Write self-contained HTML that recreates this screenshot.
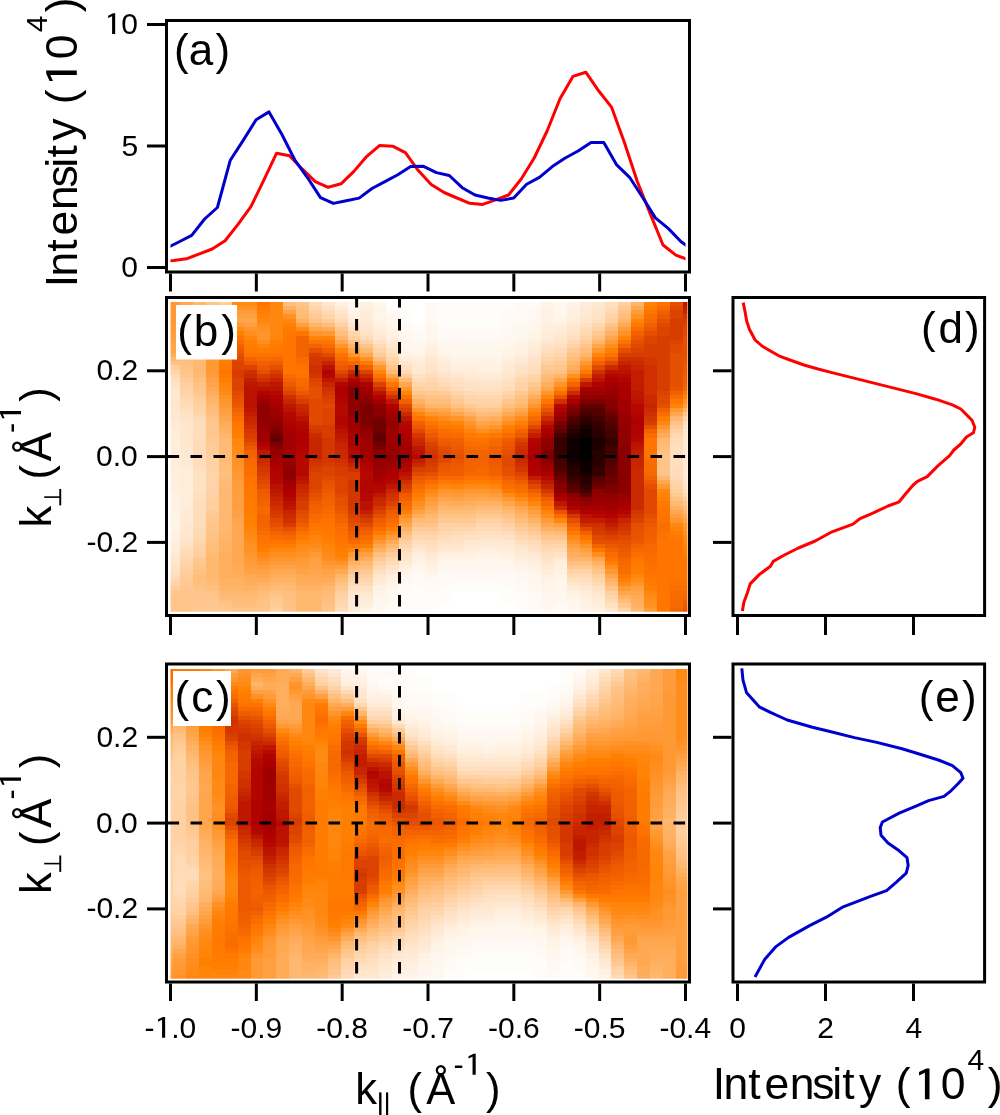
<!DOCTYPE html>
<html><head><meta charset="utf-8"><style>
html,body{margin:0;padding:0;background:#fff;overflow:hidden}
svg{display:block;will-change:transform}
</style></head><body><svg width="1000" height="1115" viewBox="0 0 1000 1115"><defs><clipPath id="ca"><rect x="170.5" y="22" width="515" height="248"/></clipPath><clipPath id="cb"><rect x="170.5" y="301.5" width="517" height="310.3"/></clipPath><clipPath id="cc"><rect x="170.5" y="669" width="517" height="309.8"/></clipPath></defs><g clip-path="url(#cb)"><g transform="translate(167.10,301.50) scale(12.89,4.25068)" shape-rendering="crispEdges"><path fill="#ff9933" d="M0,0h1v5h-1zM3,12h1v5h-1zM4,8h1v1h-1zM4,24h1v1h-1zM5,5h1v1h-1zM5,40h1v2h-1zM6,60h1v1h-1zM10,60h1v1h-1zM11,59h1v1h-1zM12,7h1v1h-1zM14,59h1v1h-1zM16,56h1v1h-1zM20,46h1v1h-1zM22,45h1v1h-1zM26,46h1v1h-1zM27,47h1v1h-1zM32,14h1v1h-1zM34,9h1v1h-1zM34,63h1v1h-1zM35,67h1v1h-1zM37,72h1v1h-1zM38,43h1v1h-1zM39,25h1v1h-1zM40,52h1v1h-1z"/><path fill="#ff9c39" d="M0,5h1v2h-1zM3,11h1v1h-1zM3,17h1v1h-1zM5,2h1v1h-1zM5,42h1v2h-1zM6,2h1v1h-1zM6,61h1v1h-1zM7,62h1v1h-1zM8,61h1v1h-1zM9,61h1v1h-1zM10,61h1v1h-1zM12,62h1v1h-1zM17,55h1v1h-1zM18,51h1v1h-1zM21,26h1v1h-1zM21,45h1v1h-1zM24,29h1v1h-1zM25,45h1v1h-1zM26,27h1v1h-1zM27,26h1v1h-1zM29,51h1v1h-1zM35,6h1v1h-1zM36,2h1v1h-1z"/><path fill="#ff9f3f" d="M0,7h1v2h-1zM3,10h1v1h-1zM4,7h1v1h-1zM4,25h1v1h-1zM5,44h1v5h-1zM6,5h1v1h-1zM6,62h1v1h-1zM10,5h1v1h-1zM10,62h1v1h-1zM11,60h1v1h-1zM13,62h1v1h-1zM15,59h1v1h-1zM20,47h1v1h-1zM23,45h1v1h-1zM24,45h1v1h-1zM28,49h1v1h-1zM30,52h1v1h-1zM31,57h1v1h-1zM32,58h1v1h-1zM36,67h1v1h-1zM39,50h1v1h-1zM40,24h1v1h-1z"/><path fill="#ffa245" d="M0,9h1v1h-1zM3,9h1v1h-1zM3,18h1v1h-1zM4,26h1v1h-1zM5,3h1v1h-1zM5,49h1v2h-1zM6,3h1v1h-1zM6,63h1v1h-1zM7,63h1v1h-1zM8,62h1v1h-1zM9,2h1v1h-1zM9,62h1v1h-1zM10,63h1v1h-1zM11,61h1v2h-1zM12,63h1v1h-1zM19,49h1v1h-1zM22,46h1v1h-1zM23,27h1v1h-1zM25,28h1v1h-1zM28,23h1v1h-1zM38,30h1v1h-1zM40,51h1v1h-1z"/><path fill="#ffa54b" d="M0,10h1v2h-1zM3,19h1v1h-1zM4,6h1v1h-1zM4,27h1v1h-1zM5,4h1v1h-1zM5,51h1v1h-1zM6,4h1v1h-1zM7,64h1v1h-1zM11,6h1v1h-1zM11,63h1v1h-1zM12,64h1v1h-1zM13,9h1v1h-1zM14,11h1v1h-1zM14,60h1v1h-1zM16,57h1v1h-1zM17,17h1v1h-1zM18,52h1v1h-1zM19,24h1v1h-1zM20,25h1v1h-1zM21,46h1v1h-1zM22,26h1v1h-1zM23,46h1v1h-1zM24,28h1v1h-1zM25,46h1v1h-1zM26,47h1v1h-1zM27,48h1v1h-1zM29,20h1v1h-1zM29,52h1v1h-1zM30,18h1v1h-1zM31,16h1v1h-1zM33,10h1v1h-1zM33,60h1v1h-1zM34,8h1v1h-1zM34,64h1v1h-1zM35,68h1v1h-1zM36,68h1v1h-1z"/><path fill="#ffab58" d="M0,12h1v1h-1zM1,5h1v2h-1zM3,7h1v1h-1zM4,28h1v1h-1zM5,62h1v2h-1zM6,65h1v1h-1zM7,65h1v1h-1zM10,65h1v1h-1zM11,65h1v1h-1zM12,6h1v1h-1zM12,65h1v1h-1zM16,14h1v1h-1zM17,56h1v1h-1zM22,47h1v1h-1zM36,69h1v1h-1zM38,31h1v1h-1zM40,50h1v1h-1z"/><path fill="#ffb870" d="M0,13h1v1h-1zM1,12h1v1h-1zM2,0h1v17h-1zM3,4h1v1h-1zM3,60h1v5h-1zM4,44h1v10h-1zM4,68h1v1h-1zM5,68h1v1h-1zM6,68h1v1h-1zM7,67h1v1h-1zM8,66h1v1h-1zM9,66h1v1h-1zM10,68h1v5h-1zM11,68h1v5h-1zM12,67h1v1h-1zM15,11h1v1h-1zM15,61h1v1h-1zM17,57h1v1h-1zM20,50h1v1h-1zM29,18h1v1h-1zM36,72h1v1h-1zM38,32h1v1h-1zM38,41h1v1h-1zM39,27h1v1h-1z"/><path fill="#ffc285" d="M0,14h1v1h-1zM1,15h1v1h-1zM2,19h1v1h-1zM2,63h1v1h-1zM2,67h1v1h-1zM3,54h1v2h-1zM4,2h1v1h-1zM7,70h1v2h-1zM8,68h1v1h-1zM9,70h1v2h-1zM11,4h1v1h-1zM12,71h1v1h-1zM13,66h1v1h-1zM14,9h1v1h-1zM17,58h1v1h-1zM19,52h1v1h-1zM21,50h1v1h-1zM22,24h1v1h-1zM22,50h1v1h-1zM24,49h1v1h-1zM25,49h1v1h-1zM26,50h1v1h-1zM27,22h1v1h-1zM28,20h1v1h-1zM30,16h1v1h-1zM31,12h1v1h-1zM33,8h1v1h-1zM35,2h1v1h-1zM38,35h1v1h-1zM39,46h1v1h-1z"/><path fill="#ffcf9e" d="M0,15h1v1h-1zM1,19h1v1h-1zM1,63h1v1h-1zM2,23h1v1h-1zM2,59h1v1h-1zM3,36h1v1h-1zM3,47h1v2h-1zM4,0h1v1h-1zM11,2h1v1h-1zM13,68h1v1h-1zM14,8h1v1h-1zM14,64h1v1h-1zM15,64h1v1h-1zM17,14h1v1h-1zM18,56h1v1h-1zM19,20h1v1h-1zM22,22h1v1h-1zM24,24h1v1h-1zM25,24h1v1h-1zM26,22h1v1h-1zM29,14h1v1h-1zM29,56h1v1h-1zM30,56h1v1h-1zM33,64h1v1h-1zM34,4h1v1h-1zM34,68h1v1h-1zM35,0h1v1h-1zM39,44h1v1h-1zM40,46h1v1h-1z"/><path fill="#ffd6ac" d="M0,16h1v1h-1zM1,22h1v1h-1zM1,60h1v1h-1zM2,26h1v1h-1zM2,56h1v1h-1zM11,1h1v1h-1zM12,3h1v1h-1zM13,70h1v1h-1zM14,7h1v1h-1zM14,65h1v1h-1zM15,65h1v1h-1zM17,13h1v1h-1zM17,60h1v1h-1zM18,57h1v1h-1zM19,19h1v1h-1zM20,55h1v1h-1zM21,20h1v1h-1zM22,21h1v1h-1zM22,53h1v1h-1zM23,22h1v1h-1zM23,53h1v1h-1zM26,21h1v1h-1zM26,53h1v1h-1zM28,17h1v1h-1zM29,13h1v1h-1zM29,57h1v1h-1zM30,12h1v1h-1zM30,57h1v1h-1zM33,65h1v1h-1zM34,69h1v1h-1zM39,42h1v1h-1z"/><path fill="#ffdab6" d="M0,17h1v1h-1zM1,23h1v1h-1zM1,59h1v1h-1zM2,27h1v1h-1zM2,33h1v4h-1zM2,53h1v2h-1zM11,0h1v1h-1zM12,2h1v1h-1zM13,4h1v1h-1zM14,66h1v1h-1zM15,66h1v1h-1zM16,10h1v1h-1zM18,16h1v1h-1zM21,19h1v1h-1zM22,54h1v1h-1zM23,21h1v1h-1zM24,53h1v1h-1zM25,53h1v1h-1zM28,56h1v1h-1zM29,12h1v1h-1zM29,58h1v1h-1zM30,11h1v1h-1zM31,64h1v1h-1zM32,64h1v1h-1zM33,66h1v1h-1zM34,70h1v1h-1zM39,41h1v1h-1z"/><path fill="#ffdfbf" d="M0,18h1v1h-1zM1,25h1v1h-1zM2,39h1v1h-1zM2,45h1v2h-1zM14,6h1v1h-1zM16,63h1v1h-1zM19,56h1v1h-1zM20,57h1v1h-1zM21,18h1v1h-1zM22,19h1v1h-1zM22,55h1v1h-1zM24,54h1v1h-1zM25,54h1v1h-1zM26,19h1v1h-1zM27,56h1v1h-1zM28,15h1v1h-1zM28,57h1v1h-1zM29,11h1v1h-1zM29,59h1v1h-1zM30,10h1v1h-1zM31,8h1v1h-1zM32,65h1v1h-1zM33,4h1v1h-1zM34,0h1v1h-1zM39,34h1v5h-1zM40,28h1v1h-1zM40,44h1v1h-1z"/><path fill="#ffe3c8" d="M0,19h1v1h-1zM0,62h1v1h-1zM1,27h1v1h-1zM1,56h1v1h-1zM17,62h1v1h-1zM19,57h1v1h-1zM20,15h1v1h-1zM20,58h1v1h-1zM21,17h1v1h-1zM22,18h1v1h-1zM22,56h1v1h-1zM23,19h1v1h-1zM24,19h1v1h-1zM24,55h1v1h-1zM25,19h1v1h-1zM25,55h1v1h-1zM27,15h1v1h-1zM27,57h1v1h-1zM28,13h1v1h-1zM28,58h1v1h-1zM29,10h1v1h-1zM29,60h1v1h-1zM30,9h1v1h-1zM30,59h1v1h-1zM31,7h1v1h-1zM32,66h1v1h-1zM33,2h1v2h-1zM40,29h1v1h-1zM40,43h1v1h-1z"/><path fill="#ffe8d1" d="M0,20h1v2h-1zM0,26h1v2h-1zM0,60h1v1h-1zM1,34h1v3h-1zM1,52h1v2h-1zM14,69h1v1h-1zM15,5h1v1h-1zM16,8h1v1h-1zM17,63h1v1h-1zM19,16h1v1h-1zM19,58h1v1h-1zM20,13h1v1h-1zM20,59h1v1h-1zM21,16h1v1h-1zM22,17h1v1h-1zM23,56h1v1h-1zM24,18h1v1h-1zM24,56h1v1h-1zM25,18h1v1h-1zM25,56h1v1h-1zM26,16h1v1h-1zM26,56h1v1h-1zM27,14h1v1h-1zM27,58h1v1h-1zM28,12h1v1h-1zM28,59h1v1h-1zM29,9h1v1h-1zM31,5h1v1h-1zM32,3h1v1h-1zM32,67h1v1h-1zM33,0h1v1h-1zM40,31h1v1h-1zM40,41h1v1h-1z"/><path fill="#ffe6cd" d="M0,22h1v4h-1zM0,61h1v1h-1zM1,28h1v6h-1zM1,54h1v2h-1zM12,0h1v1h-1zM13,2h1v1h-1zM14,5h1v1h-1zM14,68h1v1h-1zM15,6h1v1h-1zM15,68h1v1h-1zM16,64h1v1h-1zM17,10h1v1h-1zM18,14h1v1h-1zM18,60h1v1h-1zM20,14h1v1h-1zM21,57h1v1h-1zM22,57h1v1h-1zM23,18h1v1h-1zM26,17h1v1h-1zM29,61h1v1h-1zM30,8h1v1h-1zM31,6h1v1h-1zM31,66h1v1h-1zM32,4h1v1h-1zM33,1h1v1h-1zM33,68h1v1h-1zM34,72h1v1h-1zM40,30h1v1h-1zM40,42h1v1h-1z"/><path fill="#ffead6" d="M0,28h1v2h-1zM0,59h1v1h-1zM1,37h1v2h-1zM1,49h1v3h-1zM14,70h1v2h-1zM15,4h1v1h-1zM15,69h1v1h-1zM16,7h1v1h-1zM16,65h1v1h-1zM17,9h1v1h-1zM18,61h1v1h-1zM19,15h1v1h-1zM21,15h1v1h-1zM21,58h1v1h-1zM22,58h1v1h-1zM23,17h1v1h-1zM23,57h1v1h-1zM24,17h1v1h-1zM24,57h1v1h-1zM25,17h1v1h-1zM25,57h1v1h-1zM26,15h1v1h-1zM26,57h1v1h-1zM27,13h1v1h-1zM27,59h1v1h-1zM28,11h1v1h-1zM29,62h1v1h-1zM30,7h1v1h-1zM30,60h1v1h-1zM32,1h1v2h-1zM33,69h1v1h-1zM40,32h1v9h-1z"/><path fill="#ffedda" d="M0,30h1v2h-1zM0,34h1v5h-1zM0,57h1v2h-1zM1,39h1v10h-1zM13,1h1v1h-1zM14,4h1v1h-1zM14,72h1v1h-1zM15,2h1v2h-1zM15,70h1v1h-1zM16,6h1v1h-1zM16,66h1v1h-1zM18,13h1v1h-1zM19,14h1v1h-1zM19,59h1v1h-1zM20,12h1v1h-1zM20,60h1v1h-1zM21,14h1v1h-1zM22,16h1v1h-1zM23,16h1v1h-1zM23,58h1v1h-1zM26,14h1v1h-1zM26,58h1v1h-1zM28,10h1v1h-1zM28,60h1v1h-1zM29,7h1v2h-1zM29,63h1v1h-1zM30,6h1v1h-1zM31,4h1v1h-1zM31,67h1v1h-1zM32,0h1v1h-1zM32,68h1v1h-1zM33,70h1v1h-1z"/><path fill="#ffefdf" d="M0,32h1v2h-1zM0,39h1v6h-1zM0,56h1v1h-1zM15,0h1v2h-1zM15,71h1v1h-1zM17,8h1v1h-1zM17,64h1v1h-1zM18,62h1v1h-1zM19,13h1v1h-1zM20,11h1v1h-1zM20,61h1v1h-1zM21,13h1v1h-1zM21,59h1v1h-1zM22,15h1v1h-1zM22,59h1v1h-1zM23,15h1v1h-1zM23,59h1v1h-1zM24,16h1v1h-1zM24,58h1v1h-1zM25,16h1v1h-1zM25,58h1v1h-1zM26,13h1v1h-1zM26,59h1v1h-1zM27,12h1v1h-1zM27,60h1v1h-1zM28,9h1v1h-1zM28,61h1v1h-1zM29,5h1v2h-1zM30,5h1v1h-1zM30,61h1v2h-1zM31,2h1v2h-1zM32,69h1v1h-1zM33,71h1v1h-1z"/><path fill="#fff1e3" d="M0,45h1v5h-1zM0,54h1v2h-1zM13,0h1v1h-1zM14,3h1v1h-1zM16,5h1v1h-1zM16,67h1v1h-1zM17,7h1v1h-1zM17,65h1v1h-1zM18,12h1v1h-1zM19,60h1v1h-1zM20,10h1v1h-1zM20,62h1v1h-1zM22,14h1v1h-1zM23,14h1v1h-1zM24,14h1v2h-1zM24,59h1v1h-1zM25,14h1v2h-1zM25,59h1v1h-1zM27,10h1v2h-1zM27,61h1v1h-1zM28,62h1v1h-1zM29,2h1v3h-1zM29,64h1v2h-1zM30,63h1v1h-1zM31,1h1v1h-1zM31,68h1v1h-1zM32,70h1v2h-1zM33,72h1v1h-1z"/><path fill="#fff4e8" d="M0,50h1v4h-1zM14,2h1v1h-1zM15,72h1v1h-1zM16,1h1v4h-1zM16,68h1v1h-1zM17,6h1v1h-1zM17,66h1v1h-1zM18,11h1v1h-1zM18,63h1v1h-1zM19,12h1v1h-1zM19,61h1v1h-1zM20,9h1v1h-1zM20,63h1v1h-1zM21,12h1v1h-1zM21,60h1v1h-1zM22,13h1v1h-1zM22,60h1v1h-1zM23,13h1v1h-1zM23,60h1v1h-1zM24,13h1v1h-1zM25,13h1v1h-1zM26,11h1v2h-1zM26,60h1v1h-1zM27,9h1v1h-1zM27,62h1v1h-1zM28,7h1v2h-1zM28,63h1v1h-1zM29,0h1v2h-1zM29,66h1v2h-1zM30,3h1v2h-1zM30,64h1v2h-1zM31,0h1v1h-1zM31,69h1v1h-1zM32,72h1v1h-1z"/><path fill="#ffe1c3" d="M0,63h1v1h-1zM1,26h1v1h-1zM1,57h1v1h-1zM2,40h1v5h-1zM12,1h1v1h-1zM13,3h1v1h-1zM14,67h1v1h-1zM15,7h1v1h-1zM15,67h1v1h-1zM16,9h1v1h-1zM17,11h1v1h-1zM18,15h1v1h-1zM18,59h1v1h-1zM19,17h1v1h-1zM20,16h1v1h-1zM21,56h1v1h-1zM23,20h1v1h-1zM23,55h1v1h-1zM24,20h1v1h-1zM25,20h1v1h-1zM26,18h1v1h-1zM26,55h1v1h-1zM27,16h1v1h-1zM28,14h1v1h-1zM31,65h1v1h-1zM32,5h1v1h-1zM33,67h1v1h-1zM34,71h1v1h-1z"/><path fill="#ffddba" d="M0,64h1v1h-1zM1,24h1v1h-1zM1,58h1v1h-1zM2,28h1v5h-1zM2,37h1v2h-1zM2,47h1v6h-1zM13,72h1v1h-1zM15,8h1v1h-1zM17,12h1v1h-1zM17,61h1v1h-1zM18,58h1v1h-1zM19,18h1v1h-1zM20,17h1v1h-1zM20,56h1v1h-1zM21,55h1v1h-1zM22,20h1v1h-1zM23,54h1v1h-1zM24,21h1v1h-1zM25,21h1v1h-1zM26,20h1v1h-1zM26,54h1v1h-1zM27,17h1v1h-1zM28,16h1v1h-1zM30,58h1v1h-1zM32,6h1v1h-1zM34,1h1v1h-1zM39,32h1v2h-1zM39,39h1v2h-1z"/><path fill="#ffd8b1" d="M0,65h1v1h-1zM2,55h1v1h-1zM13,71h1v1h-1zM16,62h1v1h-1zM19,55h1v1h-1zM20,18h1v1h-1zM21,54h1v1h-1zM24,22h1v1h-1zM24,52h1v1h-1zM25,22h1v1h-1zM25,52h1v1h-1zM27,18h1v1h-1zM27,55h1v1h-1zM31,9h1v1h-1zM32,7h1v1h-1zM33,5h1v1h-1zM34,2h1v1h-1zM39,31h1v1h-1zM40,45h1v1h-1z"/><path fill="#ffd3a8" d="M0,66h1v1h-1zM1,21h1v1h-1zM1,61h1v1h-1zM2,25h1v1h-1zM2,57h1v1h-1zM3,39h1v6h-1zM13,69h1v1h-1zM16,11h1v1h-1zM19,54h1v1h-1zM20,19h1v1h-1zM21,53h1v1h-1zM24,23h1v1h-1zM25,23h1v1h-1zM27,19h1v1h-1zM27,54h1v1h-1zM28,55h1v1h-1zM32,8h1v1h-1zM34,3h1v1h-1zM35,72h1v1h-1zM39,43h1v1h-1zM40,27h1v1h-1z"/><path fill="#ffcc99" d="M0,67h1v1h-1zM1,18h1v1h-1zM1,64h1v1h-1zM2,22h1v1h-1zM3,34h1v2h-1zM3,49h1v1h-1zM8,71h1v1h-1zM12,4h1v1h-1zM16,12h1v1h-1zM17,59h1v1h-1zM18,17h1v1h-1zM19,53h1v1h-1zM21,21h1v1h-1zM27,53h1v1h-1zM28,54h1v1h-1zM30,14h1v1h-1zM32,9h1v1h-1zM39,29h1v1h-1z"/><path fill="#ffc78f" d="M0,68h1v1h-1zM1,17h1v1h-1zM1,67h1v1h-1zM2,21h1v1h-1zM2,61h1v1h-1zM2,70h1v2h-1zM3,28h1v4h-1zM3,51h1v1h-1zM3,70h1v2h-1zM4,72h1v1h-1zM8,69h1v1h-1zM13,6h1v1h-1zM15,63h1v1h-1zM18,55h1v1h-1zM19,21h1v1h-1zM24,25h1v1h-1zM26,23h1v1h-1zM29,55h1v1h-1zM30,15h1v1h-1zM35,71h1v1h-1z"/><path fill="#ffc48a" d="M0,69h1v4h-1zM1,16h1v1h-1zM1,68h1v5h-1zM2,20h1v1h-1zM2,62h1v1h-1zM2,68h1v2h-1zM3,0h1v1h-1zM3,27h1v1h-1zM3,52h1v2h-1zM3,68h1v2h-1zM4,71h1v1h-1zM5,72h1v1h-1zM6,72h1v1h-1zM7,72h1v1h-1zM9,72h1v1h-1zM10,0h1v1h-1zM12,72h1v1h-1zM14,63h1v1h-1zM15,10h1v1h-1zM17,15h1v1h-1zM20,22h1v1h-1zM20,52h1v1h-1zM21,22h1v1h-1zM23,50h1v1h-1zM25,25h1v1h-1zM27,52h1v1h-1zM28,53h1v1h-1zM29,16h1v1h-1zM30,55h1v1h-1zM32,10h1v1h-1zM33,63h1v1h-1zM34,5h1v1h-1zM34,67h1v1h-1zM38,36h1v5h-1zM39,28h1v1h-1zM40,26h1v1h-1zM40,47h1v1h-1z"/><path fill="#ffa852" d="M1,0h1v5h-1zM3,8h1v1h-1zM3,20h1v1h-1zM5,52h1v10h-1zM6,64h1v1h-1zM8,63h1v1h-1zM9,63h1v1h-1zM10,64h1v1h-1zM11,64h1v1h-1zM13,63h1v1h-1zM15,12h1v1h-1zM18,19h1v1h-1zM20,48h1v1h-1zM21,25h1v1h-1zM24,46h1v1h-1zM26,26h1v1h-1zM27,25h1v1h-1zM28,50h1v1h-1zM31,58h1v1h-1zM32,13h1v1h-1zM32,59h1v1h-1zM35,5h1v1h-1zM36,1h1v1h-1zM38,42h1v1h-1zM39,26h1v1h-1zM39,49h1v1h-1z"/><path fill="#ffae5e" d="M1,7h1v2h-1zM3,6h1v1h-1zM3,21h1v1h-1zM4,5h1v1h-1zM4,29h1v1h-1zM4,59h1v6h-1zM5,64h1v1h-1zM6,66h1v1h-1zM8,64h1v1h-1zM9,64h1v1h-1zM10,66h1v1h-1zM11,66h1v1h-1zM15,60h1v1h-1zM19,50h1v1h-1zM20,49h1v1h-1zM21,47h1v1h-1zM23,47h1v1h-1zM25,27h1v1h-1zM27,49h1v1h-1zM28,22h1v1h-1zM29,19h1v1h-1zM30,53h1v1h-1zM31,15h1v1h-1zM31,59h1v1h-1zM36,70h1v1h-1z"/><path fill="#ffb164" d="M1,9h1v1h-1zM3,5h1v1h-1zM3,22h1v1h-1zM4,30h1v1h-1zM4,56h1v3h-1zM4,65h1v2h-1zM5,65h1v2h-1zM6,67h1v1h-1zM7,66h1v1h-1zM8,65h1v1h-1zM9,1h1v1h-1zM9,65h1v1h-1zM10,4h1v1h-1zM10,67h1v1h-1zM11,67h1v1h-1zM12,66h1v1h-1zM14,61h1v1h-1zM16,58h1v1h-1zM18,53h1v1h-1zM19,23h1v1h-1zM23,26h1v1h-1zM24,27h1v1h-1zM24,47h1v1h-1zM25,47h1v1h-1zM26,48h1v1h-1zM28,51h1v1h-1zM29,53h1v1h-1zM33,61h1v1h-1zM34,7h1v1h-1zM34,65h1v1h-1zM35,69h1v1h-1zM36,71h1v1h-1zM39,48h1v1h-1zM40,25h1v1h-1z"/><path fill="#ffb56a" d="M1,10h1v2h-1zM3,23h1v1h-1zM4,4h1v1h-1zM4,31h1v1h-1zM4,54h1v2h-1zM4,67h1v1h-1zM5,67h1v1h-1zM11,5h1v1h-1zM13,8h1v1h-1zM13,64h1v1h-1zM14,10h1v1h-1zM20,24h1v1h-1zM21,24h1v1h-1zM21,48h1v1h-1zM22,25h1v1h-1zM22,48h1v1h-1zM23,48h1v1h-1zM26,25h1v1h-1zM27,24h1v1h-1zM27,50h1v1h-1zM30,17h1v1h-1zM31,14h1v1h-1zM31,60h1v1h-1zM32,12h1v1h-1zM32,60h1v1h-1zM33,9h1v1h-1zM35,4h1v1h-1zM36,0h1v1h-1zM40,49h1v1h-1z"/><path fill="#ffbd7a" d="M1,13h1v1h-1zM2,64h1v1h-1zM3,2h1v1h-1zM3,25h1v1h-1zM3,57h1v2h-1zM3,66h1v1h-1zM4,3h1v1h-1zM4,38h1v2h-1zM4,41h1v1h-1zM5,70h1v1h-1zM6,70h1v1h-1zM7,68h1v1h-1zM8,67h1v1h-1zM10,2h1v1h-1zM12,5h1v1h-1zM13,65h1v1h-1zM14,62h1v1h-1zM16,13h1v1h-1zM18,54h1v1h-1zM19,22h1v1h-1zM20,23h1v1h-1zM20,51h1v1h-1zM21,23h1v1h-1zM21,49h1v1h-1zM22,49h1v1h-1zM23,49h1v1h-1zM24,26h1v1h-1zM27,23h1v1h-1zM27,51h1v1h-1zM28,52h1v1h-1zM29,17h1v1h-1zM29,54h1v1h-1zM31,13h1v1h-1zM32,11h1v1h-1zM33,62h1v1h-1zM35,3h1v1h-1zM35,70h1v1h-1zM38,34h1v1h-1zM40,48h1v1h-1z"/><path fill="#ffbf7f" d="M1,14h1v1h-1zM2,18h1v1h-1zM2,65h1v2h-1zM3,1h1v1h-1zM3,26h1v1h-1zM3,56h1v1h-1zM3,67h1v1h-1zM4,40h1v1h-1zM4,70h1v1h-1zM5,71h1v1h-1zM6,71h1v1h-1zM7,69h1v1h-1zM9,0h1v1h-1zM9,68h1v2h-1zM10,1h1v1h-1zM12,69h1v2h-1zM13,7h1v1h-1zM15,62h1v1h-1zM16,59h1v1h-1zM23,25h1v1h-1zM26,24h1v1h-1zM31,61h1v1h-1zM32,61h1v1h-1z"/><path fill="#ffd1a3" d="M1,20h1v1h-1zM1,62h1v1h-1zM2,24h1v1h-1zM2,58h1v1h-1zM3,37h1v2h-1zM3,45h1v2h-1zM8,72h1v1h-1zM13,5h1v1h-1zM15,9h1v1h-1zM16,61h1v1h-1zM20,20h1v1h-1zM20,54h1v1h-1zM21,52h1v1h-1zM22,52h1v1h-1zM23,23h1v1h-1zM23,52h1v1h-1zM24,51h1v1h-1zM25,51h1v1h-1zM26,52h1v1h-1zM27,20h1v1h-1zM28,18h1v1h-1zM30,13h1v1h-1zM31,10h1v1h-1zM31,63h1v1h-1zM32,63h1v1h-1zM33,6h1v1h-1zM39,30h1v1h-1z"/><path fill="#ffc994" d="M1,65h1v2h-1zM2,60h1v1h-1zM2,72h1v1h-1zM3,32h1v2h-1zM3,50h1v1h-1zM3,72h1v1h-1zM4,1h1v1h-1zM8,70h1v1h-1zM11,3h1v1h-1zM13,67h1v1h-1zM16,60h1v1h-1zM20,21h1v1h-1zM20,53h1v1h-1zM21,51h1v1h-1zM22,23h1v1h-1zM22,51h1v1h-1zM23,24h1v1h-1zM23,51h1v1h-1zM24,50h1v1h-1zM25,50h1v1h-1zM26,51h1v1h-1zM27,21h1v1h-1zM28,19h1v1h-1zM29,15h1v1h-1zM31,11h1v1h-1zM31,62h1v1h-1zM32,62h1v1h-1zM33,7h1v1h-1zM35,1h1v1h-1zM39,45h1v1h-1z"/><path fill="#ffba75" d="M2,17h1v1h-1zM3,3h1v1h-1zM3,24h1v1h-1zM3,59h1v1h-1zM3,65h1v1h-1zM4,32h1v6h-1zM4,42h1v2h-1zM4,69h1v1h-1zM5,69h1v1h-1zM6,69h1v1h-1zM9,67h1v1h-1zM10,3h1v1h-1zM12,68h1v1h-1zM17,16h1v1h-1zM18,18h1v1h-1zM19,51h1v1h-1zM24,48h1v1h-1zM25,26h1v1h-1zM25,48h1v1h-1zM26,49h1v1h-1zM28,21h1v1h-1zM30,54h1v1h-1zM34,6h1v1h-1zM34,66h1v1h-1zM38,33h1v1h-1zM39,47h1v1h-1z"/><path fill="#ff9225" d="M4,9h1v1h-1zM4,22h1v1h-1zM5,1h1v1h-1zM5,37h1v2h-1zM6,1h1v1h-1zM6,57h1v2h-1zM7,6h1v1h-1zM9,3h1v1h-1zM10,59h1v1h-1zM11,58h1v1h-1zM13,61h1v1h-1zM15,13h1v1h-1zM15,58h1v1h-1zM22,44h1v1h-1zM25,44h1v1h-1zM31,17h1v1h-1zM32,57h1v1h-1zM35,7h1v1h-1zM36,3h1v1h-1zM37,71h1v1h-1zM40,23h1v1h-1zM40,54h1v1h-1z"/><path fill="#ff8e1e" d="M4,10h1v1h-1zM5,36h1v1h-1zM6,7h1v1h-1zM6,56h1v1h-1zM7,5h1v1h-1zM7,9h1v1h-1zM7,60h1v1h-1zM8,59h1v1h-1zM9,59h1v1h-1zM10,58h1v1h-1zM12,60h1v1h-1zM17,18h1v1h-1zM17,54h1v1h-1zM18,50h1v1h-1zM19,47h1v1h-1zM20,45h1v1h-1zM21,27h1v1h-1zM23,29h1v1h-1zM24,30h1v1h-1zM26,28h1v1h-1zM27,27h1v1h-1zM29,50h1v1h-1zM33,59h1v1h-1zM34,10h1v1h-1zM34,62h1v1h-1zM36,65h1v1h-1zM37,70h1v1h-1z"/><path fill="#ff8b16" d="M4,11h1v1h-1zM4,21h1v1h-1zM5,0h1v1h-1zM5,6h1v1h-1zM5,34h1v2h-1zM6,0h1v1h-1zM6,55h1v1h-1zM10,6h1v1h-1zM10,57h1v1h-1zM11,57h1v1h-1zM12,59h1v1h-1zM16,55h1v1h-1zM23,43h1v1h-1zM24,43h1v1h-1zM26,45h1v1h-1zM27,46h1v1h-1zM31,55h1v1h-1zM32,15h1v1h-1zM35,66h1v1h-1zM37,69h1v1h-1zM40,55h1v1h-1z"/><path fill="#ff870f" d="M4,12h1v1h-1zM4,20h1v1h-1zM5,32h1v2h-1zM6,8h1v1h-1zM6,54h1v1h-1zM7,4h1v1h-1zM7,59h1v1h-1zM8,0h1v9h-1zM8,58h1v1h-1zM9,4h1v1h-1zM9,58h1v1h-1zM11,56h1v1h-1zM12,58h1v1h-1zM13,60h1v1h-1zM14,58h1v1h-1zM20,44h1v1h-1zM21,43h1v1h-1zM25,30h1v1h-1zM25,43h1v1h-1zM28,25h1v1h-1zM28,47h1v1h-1zM29,22h1v1h-1zM30,51h1v1h-1zM36,64h1v1h-1zM37,68h1v1h-1zM38,28h1v1h-1zM38,44h1v1h-1zM39,52h1v1h-1zM40,56h1v1h-1z"/><path fill="#ff8001" d="M4,13h1v1h-1zM4,18h1v1h-1zM5,7h1v1h-1zM5,31h1v1h-1zM6,9h1v1h-1zM6,50h1v3h-1zM7,2h1v1h-1zM7,58h1v1h-1zM8,9h1v1h-1zM9,5h1v1h-1zM12,56h1v1h-1zM13,59h1v1h-1zM15,57h1v1h-1zM17,53h1v1h-1zM18,49h1v1h-1zM21,28h1v1h-1zM24,31h1v1h-1zM24,42h1v1h-1zM26,29h1v1h-1zM27,28h1v1h-1zM34,11h1v1h-1zM34,61h1v1h-1zM35,65h1v1h-1zM36,63h1v1h-1zM37,67h1v1h-1zM38,46h1v1h-1zM39,54h1v1h-1zM40,58h1v1h-1z"/><path fill="#ff7c00" d="M4,14h1v1h-1zM5,30h1v1h-1zM6,10h1v1h-1zM6,47h1v3h-1zM7,1h1v1h-1zM7,11h1v1h-1zM8,10h1v1h-1zM8,57h1v1h-1zM9,6h1v1h-1zM9,57h1v1h-1zM11,54h1v1h-1zM12,55h1v1h-1zM13,58h1v1h-1zM14,13h1v1h-1zM16,54h1v1h-1zM19,45h1v1h-1zM22,29h1v1h-1zM23,42h1v1h-1zM27,45h1v1h-1zM31,54h1v1h-1zM36,62h1v1h-1zM37,1h1v1h-1zM37,66h1v1h-1zM38,27h1v1h-1zM40,59h1v1h-1z"/><path fill="#ff7900" d="M4,15h1v1h-1zM4,17h1v1h-1zM5,29h1v1h-1zM6,11h1v1h-1zM6,44h1v3h-1zM7,57h1v1h-1zM8,11h1v1h-1zM9,7h1v1h-1zM10,55h1v1h-1zM11,53h1v1h-1zM12,53h1v2h-1zM13,57h1v1h-1zM14,57h1v1h-1zM15,14h1v1h-1zM20,43h1v1h-1zM21,29h1v1h-1zM21,42h1v1h-1zM23,31h1v1h-1zM25,31h1v1h-1zM25,42h1v1h-1zM26,44h1v1h-1zM28,26h1v1h-1zM28,46h1v1h-1zM31,18h1v1h-1zM32,16h1v1h-1zM33,58h1v1h-1zM36,5h1v1h-1zM36,61h1v1h-1zM37,65h1v1h-1zM38,47h1v1h-1zM39,23h1v1h-1zM39,55h1v1h-1z"/><path fill="#ff7500" d="M4,16h1v1h-1zM5,28h1v1h-1zM6,43h1v1h-1zM7,0h1v1h-1zM7,56h1v1h-1zM8,56h1v1h-1zM9,8h1v9h-1zM10,7h1v1h-1zM10,16h1v1h-1zM11,52h1v1h-1zM12,9h1v1h-1zM12,52h1v1h-1zM13,56h1v1h-1zM17,19h1v1h-1zM20,28h1v1h-1zM22,42h1v1h-1zM26,30h1v1h-1zM29,23h1v1h-1zM29,48h1v1h-1zM35,64h1v1h-1zM36,60h1v1h-1zM37,2h1v1h-1zM37,32h1v4h-1zM37,64h1v1h-1zM38,48h1v2h-1zM38,56h1v17h-1zM39,56h1v9h-1zM40,21h1v1h-1zM40,60h1v5h-1z"/><path fill="#ff8408" d="M4,19h1v1h-1zM6,53h1v1h-1zM7,3h1v1h-1zM7,10h1v1h-1zM10,56h1v1h-1zM11,8h1v1h-1zM11,55h1v1h-1zM12,8h1v1h-1zM12,57h1v1h-1zM13,11h1v1h-1zM16,16h1v1h-1zM18,21h1v1h-1zM19,26h1v1h-1zM19,46h1v1h-1zM20,27h1v1h-1zM22,28h1v1h-1zM22,43h1v1h-1zM23,30h1v1h-1zM29,49h1v1h-1zM30,20h1v1h-1zM32,56h1v1h-1zM33,12h1v1h-1zM35,8h1v1h-1zM36,4h1v1h-1zM37,0h1v1h-1zM38,45h1v1h-1zM39,24h1v1h-1zM39,53h1v1h-1zM40,22h1v1h-1zM40,57h1v1h-1z"/><path fill="#ff952c" d="M4,23h1v1h-1zM5,39h1v1h-1zM6,6h1v1h-1zM6,59h1v1h-1zM7,7h1v2h-1zM7,61h1v1h-1zM8,60h1v1h-1zM9,60h1v1h-1zM11,7h1v1h-1zM12,61h1v1h-1zM13,10h1v1h-1zM14,12h1v1h-1zM16,15h1v1h-1zM18,20h1v1h-1zM19,25h1v1h-1zM19,48h1v1h-1zM20,26h1v1h-1zM21,44h1v1h-1zM22,27h1v1h-1zM23,28h1v1h-1zM23,44h1v1h-1zM24,44h1v1h-1zM25,29h1v1h-1zM28,24h1v1h-1zM28,48h1v1h-1zM29,21h1v1h-1zM30,19h1v1h-1zM31,56h1v1h-1zM33,11h1v1h-1zM36,66h1v1h-1zM38,29h1v1h-1zM39,51h1v1h-1zM40,53h1v1h-1z"/><path fill="#fd7200" d="M5,8h1v1h-1zM6,12h1v1h-1zM6,41h1v2h-1zM7,12h1v1h-1zM7,55h1v1h-1zM8,12h1v1h-1zM9,56h1v1h-1zM10,15h1v1h-1zM10,17h1v1h-1zM10,54h1v1h-1zM11,9h1v1h-1zM12,51h1v1h-1zM13,12h1v1h-1zM13,55h1v1h-1zM15,56h1v1h-1zM16,17h1v1h-1zM17,52h1v1h-1zM18,22h1v1h-1zM18,48h1v1h-1zM19,27h1v1h-1zM19,44h1v1h-1zM22,30h1v1h-1zM23,32h1v1h-1zM23,41h1v1h-1zM24,32h1v1h-1zM24,41h1v1h-1zM27,29h1v1h-1zM32,55h1v1h-1zM33,13h1v1h-1zM34,12h1v1h-1zM34,60h1v1h-1zM35,9h1v1h-1zM37,36h1v1h-1zM37,62h1v2h-1zM38,0h1v1h-1zM38,50h1v2h-1zM38,54h1v2h-1zM39,65h1v2h-1zM40,65h1v2h-1z"/><path fill="#f86b00" d="M5,9h1v1h-1zM6,38h1v1h-1zM7,13h1v1h-1zM7,54h1v1h-1zM8,55h1v1h-1zM9,17h1v1h-1zM10,13h1v1h-1zM10,18h1v1h-1zM11,50h1v1h-1zM12,10h1v1h-1zM12,49h1v1h-1zM13,13h1v1h-1zM13,52h1v1h-1zM14,56h1v1h-1zM15,55h1v1h-1zM17,51h1v1h-1zM18,47h1v1h-1zM19,43h1v1h-1zM20,29h1v1h-1zM20,42h1v1h-1zM21,41h1v1h-1zM22,31h1v1h-1zM22,41h1v1h-1zM24,34h1v1h-1zM25,32h1v1h-1zM26,31h1v1h-1zM28,27h1v1h-1zM28,45h1v1h-1zM34,59h1v1h-1zM35,62h1v1h-1zM37,31h1v1h-1zM37,38h1v2h-1zM37,59h1v1h-1zM38,1h1v1h-1zM39,22h1v1h-1zM39,68h1v2h-1zM40,68h1v1h-1z"/><path fill="#f16100" d="M5,10h1v1h-1zM5,25h1v1h-1zM6,35h1v1h-1zM7,14h1v1h-1zM7,46h1v1h-1zM11,48h1v1h-1zM12,46h1v1h-1zM13,14h1v1h-1zM13,50h1v1h-1zM15,15h1v1h-1zM15,54h1v1h-1zM16,18h1v1h-1zM17,20h1v1h-1zM18,23h1v1h-1zM18,46h1v1h-1zM19,28h1v1h-1zM19,42h1v1h-1zM22,32h1v1h-1zM23,37h1v1h-1zM24,36h1v1h-1zM25,34h1v1h-1zM25,39h1v2h-1zM31,52h1v1h-1zM32,17h1v1h-1zM32,54h1v1h-1zM33,14h1v1h-1zM34,13h1v1h-1zM36,7h1v1h-1zM36,57h1v1h-1zM37,5h1v1h-1zM37,30h1v1h-1zM37,41h1v1h-1zM37,55h1v1h-1zM38,2h1v1h-1zM38,25h1v1h-1zM39,21h1v1h-1zM40,18h1v2h-1zM40,70h1v1h-1z"/><path fill="#ec5900" d="M5,11h1v1h-1zM5,24h1v1h-1zM6,14h1v1h-1zM6,34h1v1h-1zM7,15h1v1h-1zM7,44h1v1h-1zM8,53h1v1h-1zM9,19h1v1h-1zM10,21h1v1h-1zM12,44h1v1h-1zM13,15h1v1h-1zM13,49h1v1h-1zM15,53h1v1h-1zM18,45h1v1h-1zM19,29h1v1h-1zM19,41h1v1h-1zM20,31h1v1h-1zM21,33h1v1h-1zM21,39h1v1h-1zM22,34h1v1h-1zM22,38h1v1h-1zM25,37h1v1h-1zM26,33h1v1h-1zM27,31h1v1h-1zM34,57h1v1h-1zM35,58h1v1h-1zM36,8h1v1h-1zM36,56h1v1h-1zM37,6h1v1h-1zM37,42h1v1h-1zM37,52h1v1h-1zM38,3h1v1h-1zM40,15h1v2h-1zM40,71h1v1h-1z"/><path fill="#e54f00" d="M5,12h1v1h-1zM5,22h1v1h-1zM6,33h1v1h-1zM7,16h1v1h-1zM7,43h1v1h-1zM8,15h1v1h-1zM8,52h1v1h-1zM9,20h1v1h-1zM9,53h1v1h-1zM10,50h1v1h-1zM11,11h1v1h-1zM11,20h1v3h-1zM11,45h1v1h-1zM12,42h1v1h-1zM13,46h1v2h-1zM14,15h1v1h-1zM14,52h1v1h-1zM16,50h1v1h-1zM17,48h1v1h-1zM20,32h1v1h-1zM20,40h1v1h-1zM21,34h1v1h-1zM22,36h1v1h-1zM26,35h1v1h-1zM26,39h1v2h-1zM27,41h1v1h-1zM31,51h1v1h-1zM33,56h1v1h-1zM34,56h1v1h-1zM35,11h1v1h-1zM35,56h1v1h-1zM36,9h1v1h-1zM36,52h1v2h-1zM37,7h1v1h-1zM37,29h1v1h-1zM37,43h1v1h-1zM37,50h1v1h-1zM38,4h1v1h-1zM38,24h1v1h-1zM39,0h1v1h-1zM39,12h1v8h-1zM40,8h1v5h-1z"/><path fill="#e14900" d="M5,13h1v1h-1zM5,21h1v1h-1zM7,42h1v1h-1zM8,51h1v1h-1zM10,22h1v1h-1zM10,49h1v1h-1zM11,19h1v1h-1zM11,23h1v6h-1zM11,44h1v1h-1zM12,12h1v1h-1zM12,24h1v1h-1zM12,41h1v1h-1zM13,16h1v1h-1zM13,45h1v1h-1zM14,51h1v1h-1zM15,52h1v1h-1zM17,21h1v1h-1zM18,24h1v1h-1zM18,44h1v1h-1zM19,30h1v1h-1zM19,40h1v1h-1zM21,35h1v1h-1zM21,37h1v1h-1zM26,36h1v3h-1zM28,29h1v1h-1zM28,43h1v1h-1zM29,45h1v1h-1zM31,20h1v1h-1zM32,53h1v1h-1zM33,15h1v1h-1zM33,55h1v1h-1zM34,14h1v1h-1zM35,55h1v1h-1zM36,10h1v1h-1zM37,44h1v6h-1zM38,5h1v1h-1zM38,22h1v2h-1zM39,1h1v1h-1zM39,10h1v2h-1zM40,6h1v2h-1z"/><path fill="#dc4300" d="M5,14h1v2h-1zM5,18h1v3h-1zM6,15h1v1h-1zM6,32h1v1h-1zM7,41h1v1h-1zM9,21h1v1h-1zM11,18h1v1h-1zM11,40h1v4h-1zM12,23h1v1h-1zM12,25h1v4h-1zM12,39h1v2h-1zM13,41h1v4h-1zM14,50h1v1h-1zM15,16h1v1h-1zM16,19h1v1h-1zM16,49h1v1h-1zM17,47h1v1h-1zM20,33h1v1h-1zM20,39h1v1h-1zM21,36h1v1h-1zM27,32h1v1h-1zM27,40h1v1h-1zM29,26h1v1h-1zM34,55h1v1h-1zM36,11h1v1h-1zM36,51h1v1h-1zM37,8h1v2h-1zM38,6h1v2h-1zM38,21h1v1h-1zM39,2h1v2h-1zM39,9h1v1h-1zM40,5h1v1h-1z"/><path fill="#d83d00" d="M5,16h1v2h-1zM6,31h1v1h-1zM7,17h1v1h-1zM7,40h1v1h-1zM8,16h1v1h-1zM8,50h1v1h-1zM9,52h1v1h-1zM10,23h1v1h-1zM10,47h1v2h-1zM11,12h1v1h-1zM11,29h1v1h-1zM11,39h1v1h-1zM12,22h1v1h-1zM12,29h1v3h-1zM12,38h1v1h-1zM13,39h1v2h-1zM14,40h1v2h-1zM14,49h1v1h-1zM15,51h1v1h-1zM18,25h1v1h-1zM18,43h1v1h-1zM19,39h1v1h-1zM20,34h1v1h-1zM20,38h1v1h-1zM32,18h1v1h-1zM33,54h1v1h-1zM35,12h1v1h-1zM35,54h1v1h-1zM36,12h1v1h-1zM36,50h1v1h-1zM37,10h1v3h-1zM37,28h1v1h-1zM38,8h1v13h-1zM39,4h1v5h-1zM40,4h1v1h-1z"/><path fill="#e85400" d="M5,23h1v1h-1zM10,51h1v1h-1zM11,46h1v1h-1zM12,43h1v1h-1zM13,48h1v1h-1zM14,53h1v1h-1zM21,38h1v1h-1zM22,35h1v1h-1zM22,37h1v1h-1zM25,36h1v1h-1zM26,34h1v1h-1zM29,25h1v1h-1zM30,22h1v1h-1zM30,49h1v1h-1zM35,57h1v1h-1zM36,54h1v2h-1zM37,51h1v1h-1zM39,20h1v1h-1zM40,13h1v2h-1zM40,72h1v1h-1z"/><path fill="#f66800" d="M5,26h1v1h-1zM6,37h1v1h-1zM7,48h1v2h-1zM7,53h1v1h-1zM8,13h1v1h-1zM9,55h1v1h-1zM10,19h1v1h-1zM10,53h1v1h-1zM12,48h1v1h-1zM14,14h1v1h-1zM21,31h1v1h-1zM23,34h1v1h-1zM23,40h1v1h-1zM24,39h1v2h-1zM25,33h1v1h-1zM26,42h1v1h-1zM27,43h1v1h-1zM29,47h1v1h-1zM35,61h1v1h-1zM36,58h1v1h-1zM37,4h1v1h-1zM37,40h1v1h-1zM37,57h1v2h-1zM39,70h1v2h-1zM40,20h1v1h-1zM40,69h1v1h-1z"/><path fill="#fa6e00" d="M5,27h1v1h-1zM6,39h1v2h-1zM10,14h1v1h-1zM11,51h1v1h-1zM12,50h1v1h-1zM13,53h1v2h-1zM16,53h1v1h-1zM21,30h1v1h-1zM23,33h1v1h-1zM24,33h1v1h-1zM25,41h1v1h-1zM26,43h1v1h-1zM27,44h1v1h-1zM30,21h1v1h-1zM30,50h1v1h-1zM31,53h1v1h-1zM35,63h1v1h-1zM36,6h1v1h-1zM36,59h1v1h-1zM37,3h1v1h-1zM37,37h1v1h-1zM37,60h1v2h-1zM38,26h1v1h-1zM38,52h1v2h-1zM39,67h1v1h-1zM40,67h1v1h-1z"/><path fill="#f36400" d="M6,13h1v1h-1zM6,36h1v1h-1zM7,47h1v1h-1zM7,50h1v3h-1zM8,54h1v1h-1zM9,18h1v1h-1zM10,8h1v5h-1zM10,20h1v1h-1zM11,10h1v1h-1zM11,49h1v1h-1zM12,47h1v1h-1zM13,51h1v1h-1zM14,55h1v1h-1zM16,52h1v1h-1zM17,50h1v1h-1zM20,30h1v1h-1zM23,35h1v1h-1zM23,38h1v2h-1zM24,35h1v1h-1zM24,37h1v2h-1zM27,30h1v1h-1zM29,24h1v1h-1zM31,19h1v1h-1zM33,57h1v1h-1zM34,58h1v1h-1zM35,10h1v1h-1zM35,60h1v1h-1zM37,56h1v1h-1zM39,72h1v1h-1z"/><path fill="#d03000" d="M6,16h1v1h-1zM6,29h1v1h-1zM7,18h1v1h-1zM7,38h1v1h-1zM8,17h1v1h-1zM8,48h1v1h-1zM9,22h1v1h-1zM9,51h1v1h-1zM10,45h1v1h-1zM11,15h1v2h-1zM11,37h1v1h-1zM12,20h1v1h-1zM13,37h1v1h-1zM14,39h1v1h-1zM15,50h1v1h-1zM17,22h1v1h-1zM17,45h1v1h-1zM18,42h1v1h-1zM20,36h1v1h-1zM27,34h1v1h-1zM27,38h1v1h-1zM28,30h1v1h-1zM30,23h1v1h-1zM32,52h1v1h-1zM33,16h1v1h-1zM33,52h1v1h-1zM35,13h1v1h-1zM35,52h1v1h-1zM36,13h1v1h-1zM37,15h1v7h-1zM37,26h1v1h-1z"/><path fill="#cb2a00" d="M6,17h1v1h-1zM6,28h1v1h-1zM7,37h1v1h-1zM8,47h1v1h-1zM9,50h1v1h-1zM10,24h1v1h-1zM10,44h1v1h-1zM11,31h1v1h-1zM13,35h1v2h-1zM14,16h1v1h-1zM15,17h1v1h-1zM16,20h1v1h-1zM16,47h1v1h-1zM18,26h1v1h-1zM19,32h1v1h-1zM19,38h1v1h-1zM27,35h1v1h-1zM27,37h1v1h-1zM29,27h1v1h-1zM30,48h1v1h-1zM31,21h1v1h-1zM34,15h1v1h-1zM34,53h1v1h-1zM36,14h1v1h-1zM36,39h1v10h-1zM37,22h1v2h-1zM37,25h1v1h-1zM40,2h1v1h-1z"/><path fill="#c31d00" d="M6,18h1v1h-1zM6,26h1v1h-1zM7,19h1v1h-1zM8,45h1v1h-1zM10,26h1v1h-1zM13,18h1v1h-1zM13,32h1v1h-1zM15,49h1v1h-1zM18,41h1v1h-1zM19,37h1v1h-1zM27,36h1v1h-1zM28,31h1v1h-1zM28,41h1v1h-1zM32,51h1v1h-1zM33,17h1v1h-1zM33,51h1v1h-1zM34,52h1v1h-1zM36,16h1v5h-1zM36,35h1v1h-1zM40,1h1v1h-1z"/><path fill="#be1700" d="M6,19h1v1h-1zM6,25h1v1h-1zM7,35h1v1h-1zM8,19h1v1h-1zM8,44h1v1h-1zM9,24h1v1h-1zM9,48h1v1h-1zM10,42h1v1h-1zM12,18h1v1h-1zM13,31h1v1h-1zM14,17h1v1h-1zM14,37h1v1h-1zM15,18h1v1h-1zM16,45h1v1h-1zM17,23h1v1h-1zM17,43h1v1h-1zM18,27h1v1h-1zM19,34h1v1h-1zM29,28h1v1h-1zM29,42h1v1h-1zM30,47h1v1h-1zM31,49h1v1h-1zM32,19h1v1h-1zM35,15h1v1h-1zM36,21h1v2h-1zM36,34h1v1h-1zM40,0h1v1h-1z"/><path fill="#ba1100" d="M6,20h1v5h-1zM7,20h1v1h-1zM8,20h1v1h-1zM8,43h1v1h-1zM9,25h1v1h-1zM9,47h1v1h-1zM10,27h1v1h-1zM10,41h1v1h-1zM12,15h1v1h-1zM13,30h1v1h-1zM15,47h1v2h-1zM16,21h1v1h-1zM18,40h1v1h-1zM19,35h1v1h-1zM32,50h1v1h-1zM33,18h1v1h-1zM34,16h1v1h-1zM34,51h1v1h-1zM35,16h1v1h-1zM35,50h1v1h-1zM36,23h1v1h-1zM36,33h1v1h-1z"/><path fill="#c72400" d="M6,27h1v1h-1zM7,36h1v1h-1zM8,18h1v1h-1zM8,46h1v1h-1zM9,23h1v1h-1zM9,49h1v1h-1zM10,25h1v1h-1zM10,43h1v1h-1zM11,32h1v5h-1zM12,14h1v1h-1zM12,19h1v1h-1zM13,33h1v2h-1zM14,38h1v1h-1zM16,46h1v1h-1zM17,44h1v1h-1zM19,33h1v1h-1zM29,43h1v1h-1zM35,14h1v1h-1zM35,51h1v1h-1zM36,15h1v1h-1zM36,36h1v3h-1zM37,24h1v1h-1z"/><path fill="#d43600" d="M6,30h1v1h-1zM7,39h1v1h-1zM8,49h1v1h-1zM10,46h1v1h-1zM11,13h1v2h-1zM11,17h1v1h-1zM11,30h1v1h-1zM11,38h1v1h-1zM12,13h1v1h-1zM12,21h1v1h-1zM12,32h1v6h-1zM13,17h1v1h-1zM13,38h1v1h-1zM14,42h1v7h-1zM16,48h1v1h-1zM17,46h1v1h-1zM19,31h1v1h-1zM20,35h1v1h-1zM20,37h1v1h-1zM27,33h1v1h-1zM27,39h1v1h-1zM28,42h1v1h-1zM29,44h1v1h-1zM31,50h1v1h-1zM33,53h1v1h-1zM34,54h1v1h-1zM35,53h1v1h-1zM36,49h1v1h-1zM37,13h1v2h-1zM37,27h1v1h-1zM40,3h1v1h-1z"/><path fill="#b00200" d="M7,21h1v1h-1zM8,22h1v1h-1zM8,39h1v1h-1zM9,28h1v1h-1zM9,45h1v1h-1zM10,30h1v1h-1zM10,34h1v1h-1zM12,16h1v1h-1zM13,22h1v1h-1zM14,18h1v1h-1zM14,32h1v2h-1zM15,19h1v1h-1zM15,38h1v1h-1zM16,22h1v1h-1zM17,24h1v1h-1zM17,41h1v1h-1zM18,30h1v1h-1zM18,38h1v1h-1zM28,33h1v1h-1zM28,39h1v1h-1zM30,25h1v1h-1zM30,46h1v1h-1zM31,48h1v1h-1zM32,49h1v1h-1zM33,19h1v1h-1zM33,49h1v1h-1zM35,18h1v1h-1zM36,27h1v1h-1zM36,29h1v2h-1z"/><path fill="#a80000" d="M7,22h1v1h-1zM8,24h1v1h-1zM9,30h1v1h-1zM9,43h1v1h-1zM13,20h1v1h-1zM14,30h1v1h-1zM15,37h1v1h-1zM16,41h1v1h-1zM17,25h1v1h-1zM17,39h1v1h-1zM18,33h1v1h-1zM18,37h1v1h-1zM28,36h1v1h-1zM31,23h1v1h-1zM32,20h1v1h-1zM32,48h1v1h-1zM33,20h1v1h-1zM33,48h1v1h-1zM35,20h1v3h-1zM35,47h1v1h-1z"/><path fill="#9c0000" d="M7,23h1v1h-1zM7,30h1v1h-1zM8,26h1v1h-1zM8,36h1v1h-1zM9,37h1v1h-1zM9,42h1v1h-1zM14,19h1v1h-1zM14,27h1v2h-1zM15,21h1v1h-1zM15,32h1v1h-1zM16,39h1v2h-1zM17,27h1v1h-1zM17,30h1v4h-1zM17,38h1v1h-1zM18,36h1v1h-1zM32,21h1v1h-1zM33,21h1v1h-1zM33,47h1v1h-1zM34,20h1v1h-1zM34,47h1v1h-1zM35,26h1v1h-1zM35,46h1v1h-1z"/><path fill="#900000" d="M7,24h1v4h-1zM8,28h1v1h-1zM9,39h1v1h-1zM9,41h1v1h-1zM14,23h1v3h-1zM15,22h1v1h-1zM15,30h1v1h-1zM16,24h1v1h-1zM16,36h1v1h-1zM17,36h1v1h-1zM29,32h1v2h-1zM30,44h1v1h-1zM32,22h1v1h-1zM33,22h1v1h-1zM33,45h1v1h-1zM34,22h1v1h-1zM34,45h1v1h-1zM35,29h1v5h-1z"/><path fill="#960000" d="M7,28h1v2h-1zM8,27h1v1h-1zM8,35h1v1h-1zM9,38h1v1h-1zM14,26h1v1h-1zM15,31h1v1h-1zM16,37h1v2h-1zM17,28h1v2h-1zM17,34h1v2h-1zM17,37h1v1h-1zM29,38h1v1h-1zM30,27h1v1h-1zM31,46h1v1h-1zM32,47h1v1h-1zM33,46h1v1h-1zM34,21h1v1h-1zM34,46h1v1h-1zM35,27h1v2h-1zM35,45h1v1h-1z"/><path fill="#a20000" d="M7,31h1v2h-1zM8,25h1v1h-1zM8,37h1v1h-1zM9,31h1v6h-1zM14,29h1v1h-1zM15,20h1v1h-1zM15,33h1v4h-1zM16,23h1v1h-1zM17,26h1v1h-1zM18,34h1v2h-1zM29,31h1v1h-1zM29,39h1v1h-1zM30,26h1v1h-1zM30,45h1v1h-1zM31,47h1v1h-1zM34,19h1v1h-1zM34,48h1v1h-1zM35,23h1v3h-1z"/><path fill="#ae0000" d="M7,33h1v1h-1zM8,23h1v1h-1zM8,38h1v1h-1zM9,29h1v1h-1zM9,44h1v1h-1zM10,31h1v3h-1zM13,21h1v1h-1zM14,31h1v1h-1zM16,42h1v1h-1zM17,40h1v1h-1zM18,31h1v2h-1zM28,34h1v2h-1zM28,37h1v2h-1zM29,30h1v1h-1zM29,40h1v1h-1zM34,18h1v1h-1zM34,49h1v1h-1zM35,19h1v1h-1zM35,48h1v1h-1zM36,28h1v1h-1z"/><path fill="#b40800" d="M7,34h1v1h-1zM8,21h1v1h-1zM8,42h1v1h-1zM9,26h1v1h-1zM9,46h1v1h-1zM10,28h1v1h-1zM10,36h1v5h-1zM12,17h1v1h-1zM13,24h1v3h-1zM13,29h1v1h-1zM14,35h1v2h-1zM15,40h1v2h-1zM15,45h1v2h-1zM16,44h1v1h-1zM17,42h1v1h-1zM18,28h1v1h-1zM18,39h1v1h-1zM19,36h1v1h-1zM29,41h1v1h-1zM30,24h1v1h-1zM31,22h1v1h-1zM33,50h1v1h-1zM35,17h1v1h-1zM36,24h1v2h-1zM36,32h1v1h-1z"/><path fill="#ef5d00" d="M7,45h1v1h-1zM8,14h1v1h-1zM9,54h1v1h-1zM10,52h1v1h-1zM11,47h1v1h-1zM12,11h1v1h-1zM12,45h1v1h-1zM14,54h1v1h-1zM16,51h1v1h-1zM17,49h1v1h-1zM20,41h1v1h-1zM21,32h1v1h-1zM21,40h1v1h-1zM22,33h1v1h-1zM22,39h1v2h-1zM23,36h1v1h-1zM25,35h1v1h-1zM25,38h1v1h-1zM26,32h1v1h-1zM26,41h1v1h-1zM27,42h1v1h-1zM28,28h1v1h-1zM28,44h1v1h-1zM29,46h1v1h-1zM35,59h1v1h-1zM37,53h1v2h-1zM40,17h1v1h-1z"/><path fill="#8a0000" d="M8,29h1v1h-1zM8,34h1v1h-1zM9,40h1v1h-1zM14,20h1v3h-1zM15,23h1v1h-1zM15,29h1v1h-1zM16,25h1v2h-1zM16,35h1v1h-1zM29,34h1v1h-1zM29,37h1v1h-1zM30,43h1v1h-1zM31,24h1v1h-1zM31,45h1v1h-1zM32,46h1v1h-1zM33,44h1v1h-1zM34,23h1v2h-1zM35,34h1v11h-1z"/><path fill="#7c0000" d="M8,30h1v1h-1zM8,33h1v1h-1zM15,24h1v5h-1zM16,27h1v1h-1zM16,34h1v1h-1zM29,35h1v1h-1zM30,28h1v1h-1zM30,42h1v1h-1zM31,25h1v1h-1zM32,23h1v1h-1zM33,23h1v1h-1zM34,25h1v1h-1zM34,43h1v2h-1z"/><path fill="#6e0000" d="M8,31h1v1h-1zM16,28h1v3h-1zM16,33h1v1h-1zM29,36h1v1h-1zM30,29h1v1h-1zM30,41h1v1h-1zM31,26h1v1h-1zM33,43h1v1h-1zM34,26h1v1h-1zM34,41h1v2h-1z"/><path fill="#600000" d="M8,32h1v1h-1zM16,31h1v2h-1zM30,30h1v1h-1zM30,40h1v1h-1zM31,44h1v1h-1zM32,24h1v1h-1zM32,45h1v1h-1zM33,24h1v1h-1zM33,42h1v1h-1zM34,27h1v1h-1zM34,39h1v2h-1z"/><path fill="#b20500" d="M8,40h1v2h-1zM9,27h1v1h-1zM10,29h1v1h-1zM10,35h1v1h-1zM13,19h1v1h-1zM13,23h1v1h-1zM13,27h1v2h-1zM14,34h1v1h-1zM15,39h1v1h-1zM15,42h1v3h-1zM16,43h1v1h-1zM18,29h1v1h-1zM28,32h1v1h-1zM28,40h1v1h-1zM29,29h1v1h-1zM34,17h1v1h-1zM34,50h1v1h-1zM35,49h1v1h-1zM36,26h1v1h-1zM36,31h1v1h-1z"/><path fill="#fff8f1" d="M14,0h1v1h-1zM16,71h1v2h-1zM17,3h1v1h-1zM17,68h1v3h-1zM18,7h1v2h-1zM18,64h1v2h-1zM19,9h1v1h-1zM19,63h1v1h-1zM20,5h1v2h-1zM20,64h1v2h-1zM21,9h1v1h-1zM21,63h1v1h-1zM22,9h1v2h-1zM22,63h1v1h-1zM23,9h1v2h-1zM23,63h1v1h-1zM24,9h1v2h-1zM24,62h1v2h-1zM25,9h1v2h-1zM25,62h1v2h-1zM26,6h1v3h-1zM26,63h1v1h-1zM27,5h1v2h-1zM27,64h1v2h-1zM28,2h1v3h-1zM28,66h1v2h-1zM29,71h1v2h-1zM30,0h1v1h-1zM30,68h1v3h-1zM31,72h1v1h-1z"/><path fill="#fff6ed" d="M14,1h1v1h-1zM16,0h1v1h-1zM16,69h1v2h-1zM17,4h1v2h-1zM17,67h1v1h-1zM18,9h1v2h-1zM19,10h1v2h-1zM19,62h1v1h-1zM20,7h1v2h-1zM21,10h1v2h-1zM21,61h1v2h-1zM22,11h1v2h-1zM22,61h1v2h-1zM23,11h1v2h-1zM23,61h1v2h-1zM24,11h1v2h-1zM24,60h1v2h-1zM25,11h1v2h-1zM25,60h1v2h-1zM26,9h1v2h-1zM26,61h1v2h-1zM27,7h1v2h-1zM27,63h1v1h-1zM28,5h1v2h-1zM28,64h1v2h-1zM29,68h1v3h-1zM30,1h1v2h-1zM30,66h1v2h-1zM31,70h1v2h-1z"/><path fill="#ffffff" d="M17,0h1v1h-1zM18,0h1v2h-1zM19,0h1v5h-1zM21,71h1v2h-1zM22,68h1v5h-1zM23,68h1v5h-1zM24,68h1v5h-1zM25,68h1v5h-1zM26,71h1v2h-1z"/><path fill="#fffdfa" d="M17,1h1v1h-1zM18,2h1v3h-1zM18,68h1v5h-1zM19,5h1v2h-1zM19,67h1v6h-1zM20,68h1v5h-1zM21,0h1v6h-1zM21,67h1v4h-1zM22,0h1v6h-1zM22,66h1v2h-1zM23,0h1v6h-1zM23,66h1v2h-1zM24,0h1v6h-1zM24,66h1v2h-1zM25,0h1v6h-1zM25,66h1v2h-1zM26,0h1v2h-1zM26,67h1v4h-1zM27,68h1v5h-1z"/><path fill="#fffaf6" d="M17,2h1v1h-1zM17,71h1v2h-1zM18,5h1v2h-1zM18,66h1v2h-1zM19,7h1v2h-1zM19,64h1v3h-1zM20,0h1v5h-1zM20,66h1v2h-1zM21,6h1v3h-1zM21,64h1v3h-1zM22,6h1v3h-1zM22,64h1v2h-1zM23,6h1v3h-1zM23,64h1v2h-1zM24,6h1v3h-1zM24,64h1v2h-1zM25,6h1v3h-1zM25,64h1v2h-1zM26,2h1v4h-1zM26,64h1v3h-1zM27,0h1v5h-1zM27,66h1v2h-1zM28,0h1v2h-1zM28,68h1v5h-1zM30,71h1v2h-1z"/><path fill="#450000" d="M30,31h1v1h-1zM30,37h1v2h-1zM31,28h1v1h-1zM31,42h1v1h-1zM32,26h1v1h-1zM32,44h1v1h-1zM33,27h1v1h-1zM34,30h1v2h-1zM34,34h1v3h-1z"/><path fill="#370000" d="M30,32h1v5h-1zM31,29h1v1h-1zM31,41h1v1h-1zM32,27h1v1h-1zM32,43h1v1h-1zM33,28h1v2h-1zM33,39h1v2h-1zM34,32h1v2h-1z"/><path fill="#530000" d="M30,39h1v1h-1zM31,27h1v1h-1zM31,43h1v1h-1zM32,25h1v1h-1zM33,25h1v2h-1zM33,41h1v1h-1zM34,28h1v2h-1zM34,37h1v2h-1z"/><path fill="#290000" d="M31,30h1v1h-1zM31,39h1v2h-1zM32,28h1v1h-1zM32,41h1v2h-1zM33,30h1v2h-1zM33,35h1v4h-1z"/><path fill="#1c0000" d="M31,31h1v1h-1zM31,38h1v1h-1zM32,29h1v1h-1zM32,40h1v1h-1zM33,32h1v3h-1z"/><path fill="#0e0000" d="M31,32h1v6h-1zM32,30h1v2h-1zM32,37h1v3h-1z"/><path fill="#000000" d="M32,32h1v5h-1z"/></g></g><g clip-path="url(#cc)"><g transform="translate(160.30,669.00) scale(12.89,4.24384)" shape-rendering="crispEdges"><path fill="#f66800" d="M0,0h1v1h-1zM4,7h1v1h-1zM4,12h1v1h-1zM5,22h1v5h-1zM6,9h1v1h-1zM6,61h1v1h-1zM7,9h1v1h-1zM7,58h1v1h-1zM8,55h1v1h-1zM10,22h1v1h-1zM10,46h1v2h-1zM11,25h1v2h-1zM13,20h1v4h-1zM14,27h1v1h-1zM15,14h1v1h-1zM15,30h1v1h-1zM16,35h1v1h-1zM16,38h1v1h-1zM17,37h1v2h-1zM17,41h1v1h-1zM17,47h1v1h-1zM18,39h1v1h-1zM19,27h1v1h-1zM22,38h1v1h-1zM28,36h1v1h-1zM29,34h1v1h-1zM29,39h1v1h-1zM31,48h1v1h-1zM33,25h1v1h-1zM34,51h1v1h-1zM35,25h1v1h-1zM36,27h1v1h-1zM36,48h1v1h-1zM37,42h1v5h-1z"/><path fill="#f86b00" d="M0,1h1v1h-1zM4,6h1v1h-1zM4,13h1v1h-1zM5,6h1v1h-1zM5,64h1v1h-1zM6,62h1v1h-1zM8,11h1v1h-1zM8,56h1v1h-1zM9,17h1v1h-1zM9,53h1v1h-1zM10,21h1v1h-1zM10,48h1v1h-1zM11,24h1v1h-1zM11,42h1v1h-1zM13,19h1v1h-1zM13,24h1v1h-1zM14,28h1v1h-1zM15,40h1v1h-1zM15,56h1v1h-1zM16,18h1v1h-1zM16,37h1v1h-1zM16,53h1v1h-1zM17,39h1v1h-1zM17,48h1v1h-1zM18,40h1v1h-1zM19,39h1v1h-1zM20,30h1v1h-1zM21,32h1v1h-1zM21,39h1v1h-1zM22,33h1v1h-1zM22,39h1v1h-1zM28,35h1v1h-1zM28,37h1v1h-1zM29,40h1v1h-1zM30,43h1v1h-1zM31,26h1v1h-1zM32,25h1v1h-1zM32,51h1v1h-1zM33,52h1v1h-1zM34,25h1v1h-1zM34,52h1v1h-1zM35,50h1v1h-1zM36,26h1v1h-1zM36,49h1v1h-1zM37,40h1v2h-1zM37,47h1v2h-1z"/><path fill="#fa6e00" d="M0,2h1v1h-1zM4,5h1v1h-1zM4,14h1v1h-1zM5,40h1v2h-1zM5,62h1v2h-1zM5,65h1v1h-1zM7,59h1v1h-1zM9,54h1v1h-1zM10,20h1v1h-1zM10,49h1v2h-1zM11,23h1v1h-1zM11,43h1v1h-1zM12,11h1v2h-1zM13,18h1v1h-1zM13,25h1v1h-1zM14,11h1v1h-1zM15,31h1v1h-1zM15,39h1v1h-1zM16,36h1v1h-1zM17,40h1v1h-1zM17,49h1v1h-1zM18,41h1v4h-1zM20,39h1v1h-1zM21,40h1v1h-1zM22,32h1v1h-1zM23,35h1v2h-1zM28,34h1v1h-1zM29,33h1v1h-1zM30,27h1v1h-1zM35,24h1v1h-1zM35,51h1v1h-1zM36,25h1v1h-1zM36,50h1v1h-1zM37,39h1v1h-1zM37,49h1v2h-1z"/><path fill="#fd7200" d="M0,3h1v1h-1zM4,4h1v1h-1zM4,15h1v1h-1zM5,42h1v2h-1zM5,60h1v2h-1zM5,66h1v1h-1zM6,8h1v1h-1zM6,63h1v1h-1zM7,8h1v1h-1zM8,57h1v1h-1zM9,16h1v1h-1zM10,19h1v1h-1zM10,51h1v1h-1zM11,22h1v1h-1zM11,44h1v1h-1zM12,10h1v1h-1zM12,13h1v1h-1zM13,17h1v1h-1zM13,26h1v1h-1zM14,29h1v1h-1zM17,18h1v1h-1zM18,19h1v1h-1zM18,45h1v2h-1zM19,26h1v1h-1zM19,40h1v1h-1zM20,29h1v1h-1zM21,31h1v1h-1zM22,40h1v1h-1zM23,37h1v1h-1zM28,33h1v1h-1zM28,38h1v1h-1zM29,32h1v1h-1zM29,41h1v1h-1zM30,44h1v1h-1zM31,25h1v1h-1zM31,49h1v1h-1zM32,24h1v1h-1zM33,24h1v1h-1zM34,24h1v1h-1zM35,23h1v1h-1zM36,24h1v1h-1zM36,51h1v1h-1zM37,38h1v1h-1zM37,51h1v1h-1z"/><path fill="#ff7900" d="M0,4h1v1h-1zM1,0h1v1h-1zM2,0h1v1h-1zM3,3h1v1h-1zM3,12h1v1h-1zM4,3h1v1h-1zM4,63h1v4h-1zM5,45h1v1h-1zM5,56h1v2h-1zM5,67h1v1h-1zM6,7h1v1h-1zM6,65h1v1h-1zM7,61h1v1h-1zM8,58h1v1h-1zM10,18h1v1h-1zM10,53h1v1h-1zM11,20h1v1h-1zM11,47h1v1h-1zM12,9h1v1h-1zM12,14h1v1h-1zM13,15h1v1h-1zM13,28h1v1h-1zM13,54h1v2h-1zM13,57h1v2h-1zM14,43h1v7h-1zM14,54h1v2h-1zM14,57h1v1h-1zM15,13h1v1h-1zM15,33h1v2h-1zM15,37h1v1h-1zM15,57h1v1h-1zM18,48h1v1h-1zM19,25h1v1h-1zM19,41h1v1h-1zM21,41h1v1h-1zM22,31h1v1h-1zM23,33h1v1h-1zM23,39h1v1h-1zM24,36h1v1h-1zM28,32h1v1h-1zM28,40h1v1h-1zM29,42h1v1h-1zM30,26h1v1h-1zM30,45h1v1h-1zM31,24h1v1h-1zM32,23h1v1h-1zM33,53h1v1h-1zM35,53h1v1h-1zM36,53h1v1h-1zM37,36h1v1h-1zM37,53h1v1h-1z"/><path fill="#ff7c00" d="M0,5h1v1h-1zM1,1h1v1h-1zM2,1h1v1h-1zM3,2h1v1h-1zM3,13h1v1h-1zM4,17h1v1h-1zM4,60h1v3h-1zM4,67h1v2h-1zM5,46h1v1h-1zM5,55h1v1h-1zM5,68h1v1h-1zM6,6h1v1h-1zM6,66h1v1h-1zM7,62h1v1h-1zM9,15h1v1h-1zM9,56h1v1h-1zM10,54h1v1h-1zM11,19h1v1h-1zM11,48h1v2h-1zM12,8h1v1h-1zM12,15h1v1h-1zM12,31h1v18h-1zM13,14h1v1h-1zM13,29h1v2h-1zM13,48h1v6h-1zM13,59h1v1h-1zM14,31h1v1h-1zM14,41h1v2h-1zM14,50h1v4h-1zM15,35h1v2h-1zM16,17h1v1h-1zM17,51h1v1h-1zM19,42h1v1h-1zM20,28h1v1h-1zM20,41h1v1h-1zM21,30h1v1h-1zM22,41h1v1h-1zM23,32h1v1h-1zM24,35h1v1h-1zM24,37h1v1h-1zM25,36h1v1h-1zM27,36h1v1h-1zM29,31h1v1h-1zM33,22h1v1h-1zM34,22h1v1h-1zM34,54h1v1h-1zM35,21h1v1h-1zM35,54h1v1h-1zM36,22h1v1h-1zM36,54h1v1h-1zM37,29h1v7h-1zM37,54h1v1h-1z"/><path fill="#ff8001" d="M0,6h1v1h-1zM1,2h1v1h-1zM2,2h1v1h-1zM3,1h1v1h-1zM3,14h1v1h-1zM3,68h1v2h-1zM4,18h1v1h-1zM4,59h1v1h-1zM4,69h1v2h-1zM5,4h1v1h-1zM5,47h1v1h-1zM5,54h1v1h-1zM5,69h1v2h-1zM6,5h1v1h-1zM7,7h1v1h-1zM8,9h1v1h-1zM8,59h1v1h-1zM10,17h1v1h-1zM11,18h1v1h-1zM11,50h1v1h-1zM12,16h1v1h-1zM12,28h1v3h-1zM12,49h1v1h-1zM13,13h1v1h-1zM13,31h1v2h-1zM13,45h1v3h-1zM13,60h1v1h-1zM14,32h1v9h-1zM14,58h1v1h-1zM17,52h1v1h-1zM18,49h1v1h-1zM19,43h1v1h-1zM20,42h1v1h-1zM21,42h1v1h-1zM23,40h1v1h-1zM24,34h1v1h-1zM24,38h1v1h-1zM25,35h1v1h-1zM27,35h1v1h-1zM27,37h1v1h-1zM29,43h1v1h-1zM30,46h1v1h-1zM31,23h1v1h-1zM31,50h1v1h-1zM32,22h1v1h-1zM33,21h1v1h-1zM34,21h1v1h-1zM35,20h1v1h-1zM36,21h1v1h-1zM37,26h1v3h-1z"/><path fill="#ff8408" d="M0,7h1v1h-1zM1,3h1v1h-1zM2,3h1v1h-1zM3,0h1v1h-1zM3,15h1v1h-1zM3,66h1v2h-1zM3,70h1v2h-1zM4,2h1v1h-1zM4,19h1v1h-1zM4,58h1v1h-1zM4,71h1v1h-1zM5,48h1v2h-1zM5,53h1v1h-1zM5,71h1v1h-1zM6,4h1v1h-1zM6,67h1v1h-1zM7,63h1v1h-1zM9,57h1v1h-1zM10,16h1v1h-1zM10,55h1v1h-1zM11,17h1v1h-1zM11,51h1v1h-1zM12,17h1v1h-1zM12,25h1v3h-1zM12,50h1v2h-1zM13,12h1v1h-1zM13,33h1v2h-1zM13,42h1v3h-1zM14,59h1v1h-1zM16,55h1v1h-1zM19,24h1v1h-1zM24,33h1v1h-1zM25,34h1v1h-1zM25,37h1v1h-1zM26,35h1v2h-1zM27,34h1v1h-1zM27,38h1v1h-1zM28,31h1v1h-1zM28,41h1v1h-1zM29,30h1v1h-1zM30,25h1v1h-1zM35,55h1v1h-1zM36,20h1v1h-1zM36,55h1v1h-1zM37,22h1v4h-1zM37,55h1v1h-1zM38,46h1v4h-1z"/><path fill="#ff8b16" d="M0,8h1v1h-1zM1,4h1v1h-1zM2,8h1v1h-1zM2,70h1v2h-1zM3,63h1v1h-1zM4,1h1v1h-1zM4,26h1v4h-1zM4,56h1v1h-1zM5,3h1v1h-1zM6,3h1v1h-1zM6,71h1v2h-1zM7,65h1v1h-1zM8,8h1v1h-1zM8,61h1v1h-1zM9,14h1v1h-1zM9,58h1v1h-1zM10,15h1v1h-1zM11,7h1v1h-1zM11,54h1v2h-1zM12,7h1v1h-1zM12,19h1v3h-1zM12,58h1v2h-1zM13,11h1v1h-1zM14,60h1v1h-1zM15,12h1v1h-1zM16,16h1v1h-1zM17,53h1v1h-1zM19,45h1v1h-1zM23,31h1v1h-1zM23,41h1v1h-1zM24,32h1v1h-1zM24,40h1v1h-1zM25,33h1v1h-1zM25,39h1v1h-1zM26,38h1v1h-1zM27,32h1v1h-1zM27,39h1v1h-1zM28,42h1v1h-1zM29,29h1v1h-1zM31,51h1v1h-1zM32,20h1v1h-1zM32,53h1v1h-1zM33,19h1v1h-1zM33,54h1v1h-1zM34,19h1v1h-1zM35,57h1v1h-1zM36,19h1v1h-1zM36,57h1v1h-1zM37,19h1v1h-1zM37,57h1v1h-1zM38,20h1v2h-1zM38,42h1v1h-1zM38,54h1v2h-1zM40,1h1v2h-1z"/><path fill="#ff8e1e" d="M0,9h1v1h-1zM1,5h1v1h-1zM2,9h1v1h-1zM2,68h1v2h-1zM3,17h1v1h-1zM3,62h1v1h-1zM4,30h1v2h-1zM4,34h1v3h-1zM6,2h1v1h-1zM7,66h1v1h-1zM8,62h1v1h-1zM10,57h1v1h-1zM11,56h1v1h-1zM12,60h1v1h-1zM13,62h1v1h-1zM18,51h1v1h-1zM19,23h1v1h-1zM19,46h1v1h-1zM20,44h1v1h-1zM21,28h1v1h-1zM21,44h1v1h-1zM22,43h1v1h-1zM25,32h1v1h-1zM25,40h1v1h-1zM26,33h1v1h-1zM26,39h1v1h-1zM27,40h1v1h-1zM28,30h1v1h-1zM30,24h1v1h-1zM30,48h1v1h-1zM35,18h1v1h-1zM35,58h1v1h-1zM36,18h1v1h-1zM37,18h1v1h-1zM37,58h1v1h-1zM38,19h1v1h-1zM38,22h1v2h-1zM38,41h1v1h-1zM38,56h1v1h-1zM39,52h1v1h-1zM40,3h1v14h-1z"/><path fill="#ff9225" d="M0,10h1v1h-1zM1,6h1v1h-1zM1,72h1v1h-1zM2,10h1v1h-1zM2,67h1v1h-1zM3,18h1v1h-1zM3,61h1v1h-1zM4,32h1v2h-1zM4,37h1v1h-1zM4,55h1v1h-1zM6,1h1v1h-1zM7,6h1v1h-1zM8,7h1v1h-1zM9,59h1v1h-1zM10,4h1v1h-1zM10,58h1v1h-1zM11,57h1v2h-1zM12,61h1v1h-1zM16,56h1v1h-1zM18,52h1v1h-1zM19,47h1v1h-1zM22,29h1v1h-1zM23,42h1v1h-1zM24,41h1v1h-1zM26,32h1v1h-1zM26,40h1v1h-1zM28,43h1v1h-1zM29,28h1v1h-1zM29,45h1v1h-1zM31,21h1v1h-1zM33,18h1v1h-1zM34,18h1v1h-1zM34,56h1v1h-1zM36,17h1v1h-1zM36,58h1v1h-1zM37,17h1v1h-1zM38,18h1v1h-1zM38,24h1v2h-1zM38,40h1v1h-1zM38,57h1v2h-1zM39,51h1v1h-1zM39,53h1v2h-1zM40,17h1v1h-1z"/><path fill="#ff952c" d="M0,11h1v1h-1zM1,7h1v1h-1zM1,71h1v1h-1zM2,11h1v1h-1zM2,65h1v2h-1zM3,19h1v1h-1zM3,60h1v1h-1zM4,0h1v1h-1zM5,2h1v1h-1zM6,0h1v1h-1zM7,67h1v1h-1zM8,63h1v1h-1zM10,3h1v1h-1zM10,14h1v1h-1zM11,6h1v1h-1zM11,59h1v1h-1zM12,62h1v1h-1zM13,10h1v1h-1zM13,63h1v1h-1zM14,61h1v1h-1zM15,59h1v1h-1zM17,54h1v1h-1zM20,26h1v1h-1zM20,45h1v1h-1zM21,45h1v1h-1zM24,31h1v1h-1zM25,41h1v1h-1zM27,31h1v1h-1zM27,41h1v1h-1zM32,19h1v1h-1zM35,17h1v1h-1zM35,59h1v1h-1zM36,59h1v1h-1zM37,59h1v1h-1zM38,17h1v1h-1zM38,26h1v2h-1zM38,39h1v1h-1zM38,59h1v1h-1zM39,49h1v2h-1zM39,55h1v1h-1zM40,18h1v1h-1z"/><path fill="#ff9c39" d="M0,12h1v1h-1zM0,71h1v1h-1zM1,8h1v1h-1zM1,68h1v1h-1zM2,12h1v1h-1zM2,63h1v1h-1zM3,21h1v1h-1zM3,59h1v1h-1zM4,39h1v1h-1zM4,54h1v1h-1zM5,1h1v1h-1zM7,0h1v1h-1zM8,0h1v1h-1zM8,6h1v1h-1zM8,66h1v2h-1zM9,61h1v1h-1zM10,13h1v1h-1zM11,5h1v1h-1zM11,61h1v1h-1zM12,63h1v1h-1zM14,9h1v1h-1zM16,15h1v1h-1zM16,57h1v1h-1zM17,55h1v1h-1zM18,53h1v1h-1zM19,22h1v1h-1zM20,46h1v1h-1zM21,27h1v1h-1zM21,46h1v1h-1zM23,43h1v1h-1zM25,42h1v1h-1zM26,31h1v1h-1zM28,29h1v1h-1zM28,44h1v1h-1zM30,23h1v1h-1zM30,49h1v1h-1zM32,18h1v1h-1zM33,16h1v1h-1zM34,16h1v1h-1zM36,15h1v1h-1zM36,60h1v3h-1zM37,13h1v2h-1zM37,61h1v1h-1zM38,13h1v2h-1zM38,30h1v3h-1zM38,61h1v1h-1zM39,0h1v6h-1zM39,24h1v1h-1zM39,46h1v2h-1zM39,59h1v2h-1zM40,70h1v2h-1z"/><path fill="#ffa54b" d="M0,13h1v1h-1zM0,69h1v1h-1zM1,11h1v1h-1zM2,15h1v1h-1zM2,61h1v1h-1zM3,24h1v3h-1zM3,29h1v8h-1zM3,57h1v1h-1zM4,42h1v1h-1zM5,0h1v1h-1zM7,1h1v1h-1zM8,2h1v1h-1zM9,63h1v1h-1zM10,7h1v1h-1zM10,12h1v1h-1zM10,62h1v1h-1zM11,4h1v1h-1zM11,64h1v1h-1zM12,66h1v1h-1zM13,65h1v1h-1zM17,56h1v1h-1zM18,54h1v1h-1zM23,29h1v1h-1zM23,44h1v1h-1zM25,30h1v1h-1zM26,30h1v1h-1zM26,43h1v1h-1zM27,43h1v1h-1zM30,22h1v1h-1zM30,50h1v1h-1zM32,17h1v1h-1zM36,12h1v1h-1zM37,9h1v1h-1zM37,63h1v1h-1zM38,6h1v3h-1zM38,63h1v1h-1zM39,27h1v1h-1zM39,63h1v1h-1zM40,50h1v1h-1z"/><path fill="#ffab58" d="M0,14h1v1h-1zM0,67h1v1h-1zM1,12h1v1h-1zM3,38h1v1h-1zM3,56h1v1h-1zM4,44h1v3h-1zM4,50h1v2h-1zM7,2h1v1h-1zM8,3h1v2h-1zM9,1h1v2h-1zM9,9h1v2h-1zM9,67h1v6h-1zM10,63h1v1h-1zM11,67h1v1h-1zM12,67h1v1h-1zM14,63h1v1h-1zM15,61h1v1h-1zM16,59h1v1h-1zM17,15h1v1h-1zM17,57h1v1h-1zM18,16h1v1h-1zM18,55h1v1h-1zM23,45h1v1h-1zM26,44h1v1h-1zM27,29h1v1h-1zM27,44h1v1h-1zM28,46h1v1h-1zM29,26h1v1h-1zM32,16h1v1h-1zM33,14h1v1h-1zM35,12h1v1h-1zM36,9h1v2h-1zM37,5h1v2h-1zM37,70h1v2h-1zM38,66h1v2h-1zM39,29h1v2h-1zM39,41h1v1h-1zM39,66h1v2h-1zM40,23h1v1h-1zM40,48h1v1h-1z"/><path fill="#ffb56a" d="M0,15h1v1h-1zM0,65h1v1h-1zM1,13h1v1h-1zM1,64h1v1h-1zM2,19h1v1h-1zM3,42h1v2h-1zM3,54h1v1h-1zM7,3h1v1h-1zM10,67h1v1h-1zM11,71h1v1h-1zM12,70h1v1h-1zM13,7h1v1h-1zM13,67h1v1h-1zM15,10h1v1h-1zM18,56h1v1h-1zM19,20h1v1h-1zM19,53h1v1h-1zM21,25h1v1h-1zM22,26h1v1h-1zM22,48h1v1h-1zM32,55h1v1h-1zM35,10h1v1h-1zM35,65h1v1h-1zM36,5h1v1h-1zM36,69h1v1h-1zM37,1h1v1h-1zM38,71h1v1h-1zM39,35h1v3h-1zM40,25h1v1h-1z"/><path fill="#ffb870" d="M0,16h1v1h-1zM0,64h1v1h-1zM2,20h1v1h-1zM2,58h1v1h-1zM3,44h1v1h-1zM3,53h1v1h-1zM10,68h1v5h-1zM11,2h1v1h-1zM11,72h1v1h-1zM12,71h1v1h-1zM14,64h1v1h-1zM15,62h1v1h-1zM17,14h1v1h-1zM17,59h1v1h-1zM20,23h1v1h-1zM20,51h1v1h-1zM21,50h1v1h-1zM23,47h1v1h-1zM24,28h1v1h-1zM24,46h1v1h-1zM25,46h1v1h-1zM27,28h1v1h-1zM28,48h1v1h-1zM29,25h1v1h-1zM30,52h1v1h-1zM31,17h1v1h-1zM32,14h1v1h-1zM33,12h1v1h-1zM34,11h1v1h-1zM35,9h1v1h-1zM36,4h1v1h-1zM37,0h1v1h-1zM38,72h1v1h-1zM40,26h1v1h-1zM40,46h1v1h-1z"/><path fill="#ffbd7a" d="M0,17h1v1h-1zM2,21h1v1h-1zM3,46h1v1h-1zM3,50h1v2h-1zM13,68h1v1h-1zM14,65h1v1h-1zM17,60h1v1h-1zM18,15h1v1h-1zM18,58h1v1h-1zM20,22h1v1h-1zM20,52h1v1h-1zM21,51h1v1h-1zM22,25h1v1h-1zM23,27h1v1h-1zM24,47h1v1h-1zM26,28h1v1h-1zM28,26h1v1h-1zM30,20h1v1h-1zM32,13h1v1h-1zM33,11h1v1h-1zM33,58h1v1h-1zM35,7h1v1h-1zM36,2h1v1h-1zM40,27h1v1h-1z"/><path fill="#ffbf7f" d="M0,18h1v1h-1zM0,62h1v1h-1zM1,62h1v1h-1zM2,22h1v1h-1zM2,57h1v1h-1zM3,47h1v1h-1zM3,49h1v1h-1zM13,6h1v1h-1zM13,69h1v1h-1zM14,7h1v1h-1zM15,63h1v1h-1zM16,13h1v1h-1zM16,62h1v1h-1zM18,59h1v1h-1zM19,19h1v1h-1zM19,55h1v1h-1zM21,24h1v1h-1zM22,50h1v1h-1zM25,47h1v1h-1zM26,47h1v1h-1zM27,47h1v1h-1zM28,49h1v1h-1zM30,53h1v1h-1zM34,9h1v1h-1zM35,6h1v1h-1zM35,67h1v1h-1zM36,1h1v1h-1zM36,71h1v1h-1zM40,28h1v1h-1zM40,44h1v1h-1z"/><path fill="#ffc285" d="M0,19h1v1h-1zM0,61h1v1h-1zM1,15h1v1h-1zM1,61h1v1h-1zM2,23h1v1h-1zM2,32h1v4h-1zM3,48h1v1h-1zM11,1h1v1h-1zM12,4h1v1h-1zM13,70h1v1h-1zM17,61h1v1h-1zM20,53h1v1h-1zM21,52h1v1h-1zM23,49h1v1h-1zM24,27h1v1h-1zM25,27h1v1h-1zM27,27h1v1h-1zM29,24h1v1h-1zM29,51h1v1h-1zM31,16h1v1h-1zM32,12h1v1h-1zM34,8h1v1h-1zM34,62h1v1h-1zM35,5h1v1h-1zM36,0h1v1h-1zM40,29h1v1h-1zM40,43h1v1h-1z"/><path fill="#ffc48a" d="M0,20h1v1h-1zM0,60h1v1h-1zM1,16h1v1h-1zM2,24h1v2h-1zM2,30h1v2h-1zM2,36h1v1h-1zM2,56h1v1h-1zM14,66h1v1h-1zM17,13h1v1h-1zM18,60h1v1h-1zM19,56h1v1h-1zM20,21h1v1h-1zM22,24h1v1h-1zM22,51h1v1h-1zM24,48h1v1h-1zM25,48h1v1h-1zM26,27h1v1h-1zM26,48h1v1h-1zM27,48h1v1h-1zM28,25h1v1h-1zM30,19h1v1h-1zM30,54h1v1h-1zM32,56h1v1h-1zM33,10h1v1h-1zM33,59h1v1h-1zM35,4h1v1h-1zM35,68h1v1h-1zM36,72h1v1h-1zM40,30h1v1h-1zM40,42h1v1h-1z"/><path fill="#ffc994" d="M0,21h1v1h-1zM1,17h1v1h-1zM1,59h1v1h-1zM2,38h1v1h-1zM13,5h1v1h-1zM13,72h1v1h-1zM14,67h1v1h-1zM17,62h1v1h-1zM18,61h1v1h-1zM19,18h1v1h-1zM19,57h1v1h-1zM20,20h1v1h-1zM21,54h1v1h-1zM22,52h1v1h-1zM24,26h1v1h-1zM24,49h1v1h-1zM27,26h1v1h-1zM29,23h1v1h-1zM29,52h1v1h-1zM31,15h1v1h-1zM32,11h1v1h-1zM33,9h1v1h-1zM34,63h1v1h-1zM35,3h1v1h-1zM35,69h1v1h-1zM40,32h1v2h-1zM40,41h1v1h-1z"/><path fill="#ffcc99" d="M0,22h1v1h-1zM0,58h1v1h-1zM1,18h1v1h-1zM2,39h1v1h-1zM2,54h1v1h-1zM11,0h1v1h-1zM14,6h1v1h-1zM15,65h1v1h-1zM18,14h1v1h-1zM19,58h1v1h-1zM20,55h1v1h-1zM22,23h1v1h-1zM23,51h1v1h-1zM24,50h1v1h-1zM25,26h1v1h-1zM25,49h1v1h-1zM26,26h1v1h-1zM26,49h1v1h-1zM27,49h1v1h-1zM30,18h1v1h-1zM30,55h1v1h-1zM32,57h1v1h-1zM34,6h1v1h-1zM40,34h1v1h-1zM40,39h1v2h-1z"/><path fill="#ffcf9e" d="M0,23h1v1h-1zM0,57h1v1h-1zM1,19h1v1h-1zM1,36h1v1h-1zM1,58h1v1h-1zM2,40h1v4h-1zM2,53h1v1h-1zM12,3h1v1h-1zM16,12h1v1h-1zM16,64h1v1h-1zM17,63h1v1h-1zM18,62h1v1h-1zM21,22h1v1h-1zM21,55h1v1h-1zM22,53h1v1h-1zM28,24h1v1h-1zM28,51h1v1h-1zM29,53h1v1h-1zM33,60h1v1h-1zM34,5h1v1h-1zM35,2h1v1h-1zM40,35h1v4h-1z"/><path fill="#ffd1a3" d="M0,24h1v33h-1zM1,20h1v7h-1zM1,32h1v4h-1zM1,37h1v3h-1zM1,57h1v1h-1zM2,44h1v1h-1zM2,52h1v1h-1zM14,68h1v1h-1zM15,66h1v1h-1zM17,12h1v1h-1zM19,59h1v1h-1zM20,19h1v1h-1zM20,56h1v1h-1zM23,25h1v1h-1zM23,52h1v1h-1zM24,25h1v1h-1zM24,51h1v1h-1zM25,50h1v1h-1zM26,50h1v1h-1zM27,50h1v1h-1zM29,22h1v1h-1zM32,10h1v1h-1zM33,8h1v1h-1zM34,64h1v1h-1zM35,70h1v1h-1z"/><path fill="#ffc78f" d="M0,59h1v1h-1zM1,60h1v1h-1zM2,26h1v4h-1zM2,37h1v1h-1zM2,55h1v1h-1zM13,71h1v1h-1zM15,9h1v1h-1zM15,64h1v1h-1zM16,63h1v1h-1zM20,54h1v1h-1zM21,23h1v1h-1zM21,53h1v1h-1zM23,26h1v1h-1zM23,50h1v1h-1zM28,50h1v1h-1zM31,55h1v1h-1zM34,7h1v1h-1zM40,31h1v1h-1z"/><path fill="#ffba75" d="M0,63h1v1h-1zM1,14h1v1h-1zM1,63h1v1h-1zM3,45h1v1h-1zM3,52h1v1h-1zM12,72h1v1h-1zM16,61h1v1h-1zM18,57h1v1h-1zM19,54h1v1h-1zM22,49h1v1h-1zM23,48h1v1h-1zM25,28h1v1h-1zM26,46h1v1h-1zM27,46h1v1h-1zM29,50h1v1h-1zM31,54h1v1h-1zM34,10h1v1h-1zM34,61h1v1h-1zM35,8h1v1h-1zM35,66h1v1h-1zM36,3h1v1h-1zM36,70h1v1h-1zM40,45h1v1h-1z"/><path fill="#ffb164" d="M0,66h1v1h-1zM2,18h1v1h-1zM2,59h1v1h-1zM3,40h1v2h-1zM10,0h1v1h-1zM10,65h1v2h-1zM11,69h1v2h-1zM12,5h1v1h-1zM12,69h1v1h-1zM16,60h1v1h-1zM17,58h1v1h-1zM20,50h1v1h-1zM23,28h1v1h-1zM23,46h1v1h-1zM25,45h1v1h-1zM26,29h1v1h-1zM26,45h1v1h-1zM27,45h1v1h-1zM28,27h1v1h-1zM28,47h1v1h-1zM29,49h1v1h-1zM30,21h1v1h-1zM32,15h1v1h-1zM33,13h1v1h-1zM33,57h1v1h-1zM34,12h1v1h-1zM34,60h1v1h-1zM35,11h1v1h-1zM36,6h1v1h-1zM37,2h1v1h-1zM38,69h1v2h-1zM39,33h1v2h-1zM39,38h1v2h-1zM40,24h1v1h-1zM40,47h1v1h-1z"/><path fill="#ffa852" d="M0,68h1v1h-1zM1,66h1v1h-1zM2,16h1v1h-1zM2,60h1v1h-1zM3,27h1v2h-1zM3,37h1v1h-1zM4,43h1v1h-1zM4,52h1v1h-1zM9,0h1v1h-1zM9,11h1v1h-1zM9,64h1v3h-1zM10,1h1v1h-1zM10,8h1v4h-1zM11,65h1v2h-1zM13,8h1v1h-1zM19,21h1v1h-1zM19,51h1v1h-1zM20,48h1v1h-1zM21,26h1v1h-1zM21,48h1v1h-1zM22,27h1v1h-1zM22,46h1v1h-1zM24,44h1v1h-1zM25,44h1v1h-1zM28,28h1v1h-1zM29,48h1v1h-1zM31,53h1v1h-1zM33,56h1v1h-1zM34,14h1v1h-1zM34,59h1v1h-1zM35,13h1v1h-1zM35,63h1v1h-1zM36,11h1v1h-1zM36,67h1v1h-1zM37,7h1v2h-1zM37,64h1v6h-1zM38,0h1v6h-1zM38,64h1v2h-1zM39,28h1v1h-1zM39,42h1v1h-1zM39,64h1v2h-1zM40,22h1v1h-1zM40,49h1v1h-1z"/><path fill="#ffa245" d="M0,70h1v1h-1zM1,10h1v1h-1zM1,67h1v1h-1zM2,14h1v1h-1zM2,62h1v1h-1zM3,23h1v1h-1zM3,58h1v1h-1zM4,41h1v1h-1zM4,53h1v1h-1zM8,1h1v1h-1zM8,5h1v1h-1zM9,12h1v1h-1zM10,61h1v1h-1zM11,63h1v1h-1zM12,65h1v1h-1zM14,62h1v1h-1zM15,60h1v1h-1zM16,58h1v1h-1zM19,50h1v1h-1zM20,25h1v1h-1zM20,47h1v1h-1zM21,47h1v1h-1zM24,30h1v1h-1zM25,43h1v1h-1zM27,30h1v1h-1zM28,45h1v1h-1zM29,47h1v1h-1zM31,19h1v1h-1zM33,15h1v1h-1zM34,15h1v1h-1zM34,58h1v1h-1zM35,14h1v1h-1zM35,62h1v1h-1zM36,13h1v1h-1zM36,66h1v1h-1zM37,10h1v1h-1zM38,9h1v2h-1zM38,35h1v2h-1zM39,26h1v1h-1zM39,43h1v1h-1zM39,62h1v1h-1zM40,21h1v1h-1zM40,51h1v1h-1z"/><path fill="#ff9933" d="M0,72h1v1h-1zM1,69h1v2h-1zM2,64h1v1h-1zM3,20h1v1h-1zM4,38h1v1h-1zM7,68h1v5h-1zM8,64h1v2h-1zM9,13h1v1h-1zM9,60h1v1h-1zM10,5h1v1h-1zM10,59h1v1h-1zM11,60h1v1h-1zM17,16h1v1h-1zM18,17h1v1h-1zM19,48h1v1h-1zM22,44h1v1h-1zM23,30h1v1h-1zM24,42h1v1h-1zM25,31h1v1h-1zM26,41h1v1h-1zM29,46h1v1h-1zM31,20h1v1h-1zM31,52h1v1h-1zM33,17h1v1h-1zM33,55h1v1h-1zM34,17h1v1h-1zM34,57h1v1h-1zM35,16h1v1h-1zM35,60h1v1h-1zM36,16h1v1h-1zM36,63h1v2h-1zM37,15h1v2h-1zM37,60h1v1h-1zM38,15h1v2h-1zM38,28h1v2h-1zM38,38h1v1h-1zM38,60h1v1h-1zM39,6h1v18h-1zM39,48h1v1h-1zM39,56h1v3h-1zM40,19h1v1h-1zM40,72h1v1h-1z"/><path fill="#ff9f3f" d="M1,9h1v1h-1zM2,13h1v1h-1zM3,22h1v1h-1zM4,40h1v1h-1zM7,5h1v1h-1zM8,68h1v5h-1zM9,62h1v1h-1zM10,2h1v1h-1zM10,6h1v1h-1zM10,60h1v1h-1zM11,62h1v1h-1zM12,6h1v1h-1zM12,64h1v1h-1zM13,9h1v1h-1zM13,64h1v1h-1zM15,11h1v1h-1zM19,49h1v1h-1zM22,28h1v1h-1zM22,45h1v1h-1zM24,43h1v1h-1zM26,42h1v1h-1zM27,42h1v1h-1zM29,27h1v1h-1zM32,54h1v1h-1zM35,15h1v1h-1zM35,61h1v1h-1zM36,14h1v1h-1zM36,65h1v1h-1zM37,11h1v2h-1zM37,62h1v1h-1zM38,11h1v2h-1zM38,33h1v2h-1zM38,37h1v1h-1zM38,62h1v1h-1zM39,25h1v1h-1zM39,44h1v2h-1zM39,61h1v1h-1zM40,20h1v1h-1zM40,52h1v18h-1z"/><path fill="#ffd3a8" d="M1,27h1v5h-1zM1,40h1v1h-1zM1,56h1v1h-1zM2,45h1v1h-1zM2,51h1v1h-1zM13,4h1v1h-1zM14,69h1v1h-1zM16,65h1v1h-1zM19,17h1v1h-1zM20,57h1v1h-1zM21,56h1v1h-1zM22,22h1v1h-1zM22,54h1v1h-1zM25,25h1v1h-1zM26,25h1v1h-1zM27,25h1v1h-1zM30,17h1v1h-1zM30,56h1v1h-1zM31,14h1v1h-1zM32,58h1v1h-1zM33,61h1v1h-1zM34,4h1v1h-1z"/><path fill="#ffd6ac" d="M1,41h1v2h-1zM1,55h1v1h-1zM2,46h1v1h-1zM2,50h1v1h-1zM12,2h1v1h-1zM14,70h1v1h-1zM15,67h1v1h-1zM16,66h1v1h-1zM17,64h1v1h-1zM18,63h1v1h-1zM19,60h1v1h-1zM20,58h1v1h-1zM21,21h1v1h-1zM23,53h1v1h-1zM24,52h1v1h-1zM28,23h1v1h-1zM28,52h1v1h-1zM29,21h1v1h-1zM29,54h1v1h-1zM31,56h1v1h-1zM33,7h1v1h-1zM34,65h1v1h-1zM35,1h1v1h-1zM35,71h1v1h-1z"/><path fill="#ffd8b1" d="M1,43h1v1h-1zM1,54h1v1h-1zM15,8h1v1h-1zM16,11h1v1h-1zM17,11h1v1h-1zM19,61h1v1h-1zM20,18h1v1h-1zM21,57h1v1h-1zM22,55h1v1h-1zM23,24h1v1h-1zM25,51h1v1h-1zM26,51h1v1h-1zM27,51h1v1h-1zM30,57h1v1h-1zM32,9h1v1h-1zM34,3h1v1h-1z"/><path fill="#ffdab6" d="M1,44h1v4h-1zM1,53h1v1h-1zM2,47h1v1h-1zM2,49h1v1h-1zM13,3h1v1h-1zM14,5h1v1h-1zM14,71h1v1h-1zM15,68h1v1h-1zM16,67h1v1h-1zM17,65h1v1h-1zM18,13h1v1h-1zM18,64h1v1h-1zM20,59h1v1h-1zM22,21h1v1h-1zM23,54h1v1h-1zM24,24h1v1h-1zM24,53h1v1h-1zM25,24h1v1h-1zM26,24h1v1h-1zM27,24h1v1h-1zM28,22h1v1h-1zM28,53h1v1h-1zM29,55h1v1h-1zM30,16h1v1h-1zM31,13h1v1h-1zM31,57h1v1h-1zM32,59h1v1h-1zM33,6h1v1h-1zM33,62h1v1h-1zM35,0h1v1h-1zM35,72h1v1h-1z"/><path fill="#ffddba" d="M1,48h1v5h-1zM2,48h1v1h-1zM12,1h1v1h-1zM14,72h1v1h-1zM19,16h1v1h-1zM19,62h1v1h-1zM20,60h1v1h-1zM21,20h1v1h-1zM21,58h1v1h-1zM22,56h1v1h-1zM25,52h1v1h-1zM26,52h1v1h-1zM27,52h1v1h-1zM29,20h1v1h-1zM30,58h1v1h-1zM34,2h1v1h-1zM34,66h1v1h-1z"/><path fill="#ffae5e" d="M1,65h1v1h-1zM2,17h1v1h-1zM3,39h1v1h-1zM3,55h1v1h-1zM4,47h1v3h-1zM7,4h1v1h-1zM9,3h1v6h-1zM10,64h1v1h-1zM11,3h1v1h-1zM11,68h1v1h-1zM12,68h1v1h-1zM13,66h1v1h-1zM14,8h1v1h-1zM16,14h1v1h-1zM19,52h1v1h-1zM20,24h1v1h-1zM20,49h1v1h-1zM21,49h1v1h-1zM22,47h1v1h-1zM24,29h1v1h-1zM24,45h1v1h-1zM25,29h1v1h-1zM30,51h1v1h-1zM31,18h1v1h-1zM34,13h1v1h-1zM35,64h1v1h-1zM36,7h1v2h-1zM36,68h1v1h-1zM37,3h1v2h-1zM37,72h1v1h-1zM38,68h1v1h-1zM39,31h1v2h-1zM39,40h1v1h-1zM39,68h1v5h-1z"/><path fill="#ff870f" d="M2,4h1v4h-1zM2,72h1v1h-1zM3,16h1v1h-1zM3,64h1v2h-1zM3,72h1v1h-1zM4,20h1v6h-1zM4,57h1v1h-1zM4,72h1v1h-1zM5,50h1v3h-1zM5,72h1v1h-1zM6,68h1v3h-1zM7,64h1v1h-1zM8,60h1v1h-1zM10,56h1v1h-1zM11,8h1v9h-1zM11,52h1v2h-1zM12,18h1v1h-1zM12,22h1v3h-1zM12,52h1v6h-1zM13,35h1v7h-1zM13,61h1v1h-1zM14,10h1v1h-1zM15,58h1v1h-1zM17,17h1v1h-1zM18,18h1v1h-1zM18,50h1v1h-1zM19,44h1v1h-1zM20,27h1v1h-1zM20,43h1v1h-1zM21,29h1v1h-1zM21,43h1v1h-1zM22,30h1v1h-1zM22,42h1v1h-1zM24,39h1v1h-1zM25,38h1v1h-1zM26,34h1v1h-1zM26,37h1v1h-1zM27,33h1v1h-1zM29,44h1v1h-1zM30,47h1v1h-1zM31,22h1v1h-1zM32,21h1v1h-1zM33,20h1v1h-1zM34,20h1v1h-1zM34,55h1v1h-1zM35,19h1v1h-1zM35,56h1v1h-1zM36,56h1v1h-1zM37,20h1v2h-1zM37,56h1v1h-1zM38,43h1v3h-1zM38,50h1v4h-1zM40,0h1v1h-1z"/><path fill="#ff7500" d="M3,4h1v8h-1zM4,16h1v1h-1zM5,5h1v1h-1zM5,44h1v1h-1zM5,58h1v2h-1zM6,64h1v1h-1zM7,60h1v1h-1zM8,10h1v1h-1zM9,55h1v1h-1zM10,52h1v1h-1zM11,21h1v1h-1zM11,45h1v2h-1zM13,16h1v1h-1zM13,27h1v1h-1zM13,56h1v1h-1zM14,30h1v1h-1zM14,56h1v1h-1zM15,32h1v1h-1zM15,38h1v1h-1zM16,54h1v1h-1zM17,50h1v1h-1zM18,47h1v1h-1zM20,40h1v1h-1zM23,34h1v1h-1zM23,38h1v1h-1zM28,39h1v1h-1zM32,52h1v1h-1zM33,23h1v1h-1zM34,23h1v1h-1zM34,53h1v1h-1zM35,22h1v1h-1zM35,52h1v1h-1zM36,23h1v1h-1zM36,52h1v1h-1zM37,37h1v1h-1zM37,52h1v1h-1z"/><path fill="#f36400" d="M4,8h1v4h-1zM5,20h1v2h-1zM5,27h1v2h-1zM5,39h1v1h-1zM6,60h1v1h-1zM7,52h1v1h-1zM9,18h1v1h-1zM9,52h1v1h-1zM10,23h1v1h-1zM10,45h1v1h-1zM11,27h1v1h-1zM11,41h1v1h-1zM15,41h1v1h-1zM15,55h1v1h-1zM16,39h1v1h-1zM17,36h1v1h-1zM17,42h1v1h-1zM17,46h1v1h-1zM18,20h1v1h-1zM18,38h1v1h-1zM19,38h1v1h-1zM20,38h1v1h-1zM21,33h1v1h-1zM21,38h1v1h-1zM22,34h1v1h-1zM29,35h1v1h-1zM29,38h1v1h-1zM30,28h1v1h-1zM30,42h1v1h-1zM31,27h1v1h-1zM32,50h1v1h-1zM33,51h1v1h-1zM34,26h1v1h-1zM34,50h1v1h-1zM35,26h1v1h-1zM35,49h1v1h-1zM36,28h1v3h-1zM36,46h1v2h-1z"/><path fill="#f16100" d="M5,7h1v1h-1zM5,19h1v1h-1zM5,29h1v1h-1zM6,59h1v1h-1zM7,10h1v1h-1zM7,50h1v2h-1zM7,53h1v2h-1zM7,57h1v1h-1zM8,12h1v1h-1zM8,54h1v1h-1zM9,51h1v1h-1zM10,24h1v1h-1zM10,44h1v1h-1zM11,28h1v6h-1zM11,38h1v3h-1zM14,12h1v1h-1zM14,26h1v1h-1zM16,34h1v1h-1zM16,40h1v1h-1zM17,19h1v1h-1zM17,43h1v1h-1zM17,45h1v1h-1zM18,21h1v1h-1zM18,37h1v1h-1zM19,28h1v1h-1zM20,31h1v1h-1zM21,34h1v1h-1zM22,35h1v1h-1zM22,37h1v1h-1zM29,37h1v1h-1zM30,29h1v1h-1zM31,47h1v1h-1zM32,26h1v1h-1zM33,50h1v1h-1zM34,49h1v1h-1zM35,27h1v1h-1zM35,48h1v1h-1zM36,31h1v4h-1zM36,45h1v1h-1z"/><path fill="#e85400" d="M5,8h1v1h-1zM5,33h1v1h-1zM6,47h1v1h-1zM7,11h1v1h-1zM7,46h1v1h-1zM8,51h1v1h-1zM9,49h1v1h-1zM10,41h1v1h-1zM15,15h1v1h-1zM15,28h1v1h-1zM15,43h1v1h-1zM16,32h1v1h-1zM16,42h1v1h-1zM18,23h1v1h-1zM20,33h1v1h-1zM30,32h1v1h-1zM30,40h1v1h-1zM31,29h1v1h-1zM33,48h1v1h-1zM34,28h1v1h-1zM34,47h1v1h-1zM35,32h1v2h-1zM35,45h1v1h-1z"/><path fill="#e14900" d="M5,9h1v1h-1zM5,34h1v1h-1zM6,43h1v2h-1zM7,12h1v1h-1zM7,44h1v1h-1zM8,50h1v1h-1zM9,22h1v1h-1zM9,48h1v1h-1zM10,28h1v6h-1zM10,39h1v2h-1zM14,22h1v1h-1zM15,27h1v1h-1zM15,44h1v1h-1zM16,20h1v1h-1zM16,31h1v1h-1zM16,49h1v1h-1zM17,20h1v1h-1zM19,35h1v1h-1zM20,36h1v1h-1zM30,35h1v2h-1zM31,31h1v1h-1zM32,28h1v2h-1zM33,47h1v1h-1zM34,29h1v1h-1zM34,45h1v1h-1zM35,35h1v2h-1zM35,43h1v1h-1z"/><path fill="#dc4300" d="M5,10h1v1h-1zM5,16h1v1h-1zM5,35h1v2h-1zM6,12h1v1h-1zM6,42h1v1h-1zM7,13h1v1h-1zM8,15h1v1h-1zM8,49h1v1h-1zM9,23h1v1h-1zM9,47h1v1h-1zM10,34h1v1h-1zM10,37h1v2h-1zM14,15h1v1h-1zM15,45h1v2h-1zM16,44h1v5h-1zM17,32h1v1h-1zM18,25h1v1h-1zM18,34h1v1h-1zM19,31h1v1h-1zM19,34h1v1h-1zM31,32h1v2h-1zM31,44h1v1h-1zM32,30h1v1h-1zM32,47h1v1h-1zM33,28h1v1h-1zM33,46h1v1h-1zM34,44h1v1h-1zM35,37h1v2h-1zM35,41h1v2h-1z"/><path fill="#d43600" d="M5,11h1v1h-1zM5,13h1v2h-1zM6,14h1v1h-1zM6,17h1v2h-1zM6,24h1v2h-1zM6,40h1v1h-1zM7,15h1v1h-1zM7,42h1v1h-1zM8,16h1v1h-1zM8,47h1v1h-1zM9,25h1v2h-1zM9,45h1v1h-1zM14,17h1v2h-1zM14,20h1v1h-1zM15,17h1v1h-1zM15,48h1v1h-1zM16,21h1v1h-1zM17,31h1v1h-1zM18,27h1v1h-1zM18,33h1v1h-1zM19,32h1v1h-1zM31,36h1v5h-1zM32,32h1v2h-1zM32,46h1v1h-1zM33,29h1v1h-1zM33,44h1v1h-1zM34,40h1v1h-1z"/><path fill="#d03000" d="M5,12h1v1h-1zM6,15h1v2h-1zM6,26h1v2h-1zM6,39h1v1h-1zM7,16h1v1h-1zM8,46h1v1h-1zM9,27h1v2h-1zM9,44h1v1h-1zM14,19h1v1h-1zM15,25h1v1h-1zM16,29h1v1h-1zM18,28h1v1h-1zM32,34h1v2h-1zM33,30h1v1h-1zM33,42h1v2h-1zM34,31h1v1h-1zM34,39h1v1h-1z"/><path fill="#d83d00" d="M5,15h1v1h-1zM6,13h1v1h-1zM6,19h1v5h-1zM6,41h1v1h-1zM7,14h1v1h-1zM7,43h1v1h-1zM8,48h1v1h-1zM9,24h1v1h-1zM9,46h1v1h-1zM10,35h1v2h-1zM14,16h1v1h-1zM14,21h1v1h-1zM15,16h1v1h-1zM15,26h1v1h-1zM15,47h1v1h-1zM15,49h1v4h-1zM16,30h1v1h-1zM17,21h1v1h-1zM18,26h1v1h-1zM19,33h1v1h-1zM31,34h1v2h-1zM31,41h1v3h-1zM32,31h1v1h-1zM33,45h1v1h-1zM34,30h1v1h-1zM34,41h1v3h-1zM35,39h1v2h-1z"/><path fill="#e54f00" d="M5,17h1v1h-1zM5,37h1v1h-1zM6,11h1v1h-1zM6,45h1v2h-1zM7,45h1v1h-1zM8,14h1v1h-1zM9,21h1v1h-1zM10,27h1v1h-1zM14,14h1v1h-1zM14,23h1v1h-1zM15,53h1v1h-1zM16,43h1v1h-1zM16,50h1v1h-1zM17,33h1v1h-1zM18,24h1v1h-1zM18,35h1v1h-1zM19,30h1v1h-1zM19,36h1v1h-1zM20,34h1v2h-1zM30,33h1v2h-1zM30,37h1v3h-1zM31,30h1v1h-1zM31,45h1v1h-1zM32,48h1v1h-1zM33,27h1v1h-1zM34,46h1v1h-1zM35,34h1v1h-1zM35,44h1v1h-1z"/><path fill="#ec5900" d="M5,18h1v1h-1zM5,32h1v1h-1zM6,48h1v9h-1zM7,47h1v1h-1zM7,56h1v1h-1zM8,13h1v1h-1zM8,52h1v1h-1zM9,20h1v1h-1zM9,50h1v1h-1zM10,26h1v1h-1zM10,42h1v1h-1zM14,13h1v1h-1zM14,24h1v1h-1zM15,54h1v1h-1zM16,41h1v1h-1zM16,51h1v1h-1zM17,34h1v1h-1zM18,22h1v1h-1zM18,36h1v1h-1zM19,29h1v1h-1zM19,37h1v1h-1zM20,32h1v1h-1zM20,37h1v1h-1zM21,35h1v2h-1zM30,31h1v1h-1zM31,46h1v1h-1zM32,27h1v1h-1zM32,49h1v1h-1zM33,49h1v1h-1zM35,29h1v3h-1zM35,46h1v1h-1zM36,39h1v3h-1z"/><path fill="#ef5d00" d="M5,30h1v2h-1zM5,38h1v1h-1zM6,10h1v1h-1zM6,57h1v2h-1zM7,48h1v2h-1zM7,55h1v1h-1zM8,53h1v1h-1zM9,19h1v1h-1zM10,25h1v1h-1zM10,43h1v1h-1zM11,34h1v4h-1zM14,25h1v1h-1zM15,29h1v1h-1zM15,42h1v1h-1zM16,19h1v1h-1zM16,33h1v1h-1zM16,52h1v1h-1zM17,35h1v1h-1zM17,44h1v1h-1zM21,37h1v1h-1zM22,36h1v1h-1zM29,36h1v1h-1zM30,30h1v1h-1zM30,41h1v1h-1zM31,28h1v1h-1zM33,26h1v1h-1zM34,27h1v1h-1zM34,48h1v1h-1zM35,28h1v1h-1zM35,47h1v1h-1zM36,35h1v4h-1zM36,42h1v3h-1z"/><path fill="#cb2a00" d="M6,28h1v1h-1zM6,38h1v1h-1zM7,41h1v1h-1zM8,17h1v1h-1zM9,29h1v1h-1zM9,43h1v1h-1zM15,18h1v1h-1zM17,22h1v1h-1zM18,29h1v4h-1zM32,36h1v1h-1zM32,45h1v1h-1zM33,31h1v1h-1zM33,41h1v1h-1zM34,38h1v1h-1z"/><path fill="#c72400" d="M6,29h1v1h-1zM6,37h1v1h-1zM7,17h1v1h-1zM7,40h1v1h-1zM8,45h1v1h-1zM9,30h1v1h-1zM9,42h1v1h-1zM15,19h1v1h-1zM15,23h1v2h-1zM16,22h1v1h-1zM17,30h1v1h-1zM32,37h1v2h-1zM33,32h1v2h-1zM33,38h1v3h-1zM34,32h1v2h-1zM34,37h1v1h-1z"/><path fill="#c31d00" d="M6,30h1v1h-1zM7,18h1v1h-1zM8,44h1v1h-1zM9,31h1v2h-1zM15,20h1v3h-1zM16,28h1v1h-1zM17,23h1v1h-1zM32,39h1v1h-1zM32,43h1v2h-1zM33,34h1v4h-1zM34,34h1v3h-1z"/><path fill="#be1700" d="M6,31h1v6h-1zM7,19h1v1h-1zM7,39h1v1h-1zM8,18h1v1h-1zM8,43h1v1h-1zM9,33h1v2h-1zM9,41h1v1h-1zM16,27h1v1h-1zM17,29h1v1h-1zM32,40h1v3h-1z"/><path fill="#ba1100" d="M7,20h1v1h-1zM8,42h1v1h-1zM9,35h1v1h-1zM9,37h1v4h-1zM16,23h1v1h-1zM16,26h1v1h-1zM17,24h1v2h-1z"/><path fill="#b40800" d="M7,21h1v2h-1zM7,38h1v1h-1zM8,19h1v1h-1zM8,41h1v1h-1zM9,36h1v1h-1zM16,25h1v1h-1zM17,26h1v1h-1zM17,28h1v1h-1z"/><path fill="#b20500" d="M7,23h1v8h-1zM7,37h1v1h-1zM8,40h1v1h-1zM16,24h1v1h-1zM17,27h1v1h-1z"/><path fill="#b00200" d="M7,31h1v4h-1zM8,20h1v1h-1zM8,39h1v1h-1z"/><path fill="#ae0000" d="M7,35h1v2h-1zM8,21h1v1h-1zM8,38h1v1h-1z"/><path fill="#a80000" d="M8,22h1v1h-1zM8,31h1v3h-1zM8,37h1v1h-1z"/><path fill="#a20000" d="M8,23h1v1h-1zM8,26h1v5h-1zM8,34h1v3h-1z"/><path fill="#9c0000" d="M8,24h1v2h-1z"/><path fill="#ffe3c8" d="M12,0h1v1h-1zM16,9h1v1h-1zM16,70h1v1h-1zM17,9h1v1h-1zM18,66h1v1h-1zM19,15h1v1h-1zM19,64h1v1h-1zM22,58h1v1h-1zM23,22h1v1h-1zM23,56h1v1h-1zM24,22h1v1h-1zM24,55h1v1h-1zM25,22h1v1h-1zM26,22h1v1h-1zM26,54h1v1h-1zM27,22h1v1h-1zM27,54h1v1h-1zM28,55h1v1h-1zM30,14h1v1h-1zM30,59h1v1h-1zM32,7h1v1h-1z"/><path fill="#ffead6" d="M13,0h1v1h-1zM16,8h1v1h-1zM17,8h1v1h-1zM17,70h1v1h-1zM18,68h1v1h-1zM19,67h1v1h-1zM20,15h1v1h-1zM20,65h1v1h-1zM21,17h1v1h-1zM21,62h1v1h-1zM22,18h1v1h-1zM23,20h1v1h-1zM23,58h1v1h-1zM24,20h1v1h-1zM24,57h1v1h-1zM25,57h1v1h-1zM26,20h1v1h-1zM27,20h1v1h-1zM28,19h1v1h-1zM28,57h1v1h-1zM29,17h1v1h-1zM30,61h1v1h-1zM32,62h1v1h-1zM33,3h1v1h-1zM33,65h1v1h-1zM34,69h1v1h-1z"/><path fill="#ffe6cd" d="M13,1h1v1h-1zM14,4h1v1h-1zM15,6h1v1h-1zM15,71h1v1h-1zM16,71h1v1h-1zM17,68h1v1h-1zM19,65h1v1h-1zM20,16h1v1h-1zM20,63h1v1h-1zM21,18h1v1h-1zM21,60h1v1h-1zM22,19h1v1h-1zM23,57h1v1h-1zM25,55h1v1h-1zM28,20h1v1h-1zM29,18h1v1h-1zM29,57h1v1h-1zM31,59h1v1h-1zM32,61h1v1h-1zM33,4h1v1h-1zM34,0h1v1h-1z"/><path fill="#ffdfbf" d="M13,2h1v1h-1zM15,69h1v1h-1zM16,10h1v1h-1zM16,68h1v1h-1zM17,10h1v1h-1zM17,66h1v1h-1zM18,65h1v1h-1zM19,63h1v1h-1zM20,17h1v1h-1zM20,61h1v1h-1zM23,23h1v1h-1zM23,55h1v1h-1zM24,23h1v1h-1zM24,54h1v1h-1zM25,23h1v1h-1zM25,53h1v1h-1zM26,23h1v1h-1zM27,23h1v1h-1zM28,54h1v1h-1zM30,15h1v1h-1zM32,8h1v1h-1z"/><path fill="#fff6ed" d="M14,0h1v1h-1zM15,0h1v1h-1zM16,4h1v1h-1zM17,5h1v1h-1zM18,8h1v1h-1zM19,10h1v1h-1zM20,10h1v2h-1zM20,70h1v2h-1zM21,13h1v1h-1zM21,67h1v2h-1zM22,14h1v1h-1zM22,64h1v2h-1zM23,63h1v1h-1zM24,61h1v2h-1zM25,17h1v1h-1zM25,61h1v2h-1zM26,60h1v2h-1zM27,60h1v2h-1zM28,14h1v1h-1zM28,61h1v2h-1zM29,11h1v2h-1zM29,63h1v1h-1zM30,9h1v1h-1zM30,66h1v2h-1zM31,7h1v1h-1zM31,63h1v1h-1zM32,2h1v1h-1zM32,65h1v2h-1zM33,70h1v2h-1z"/><path fill="#fff4e8" d="M14,1h1v1h-1zM15,1h1v1h-1zM16,5h1v1h-1zM18,9h1v1h-1zM18,72h1v1h-1zM19,11h1v1h-1zM19,72h1v1h-1zM20,12h1v1h-1zM20,68h1v2h-1zM21,14h1v1h-1zM21,65h1v2h-1zM22,15h1v1h-1zM22,63h1v1h-1zM23,17h1v1h-1zM23,61h1v2h-1zM24,17h1v1h-1zM24,60h1v1h-1zM25,18h1v1h-1zM25,60h1v1h-1zM26,17h1v1h-1zM26,59h1v1h-1zM27,17h1v1h-1zM27,59h1v1h-1zM28,15h1v2h-1zM28,60h1v1h-1zM29,13h1v1h-1zM29,61h1v2h-1zM30,10h1v1h-1zM30,64h1v2h-1zM31,8h1v1h-1zM32,3h1v1h-1zM32,64h1v1h-1zM33,68h1v2h-1zM34,72h1v1h-1z"/><path fill="#fff1e3" d="M14,2h1v1h-1zM15,2h1v1h-1zM16,6h1v1h-1zM17,6h1v1h-1zM18,10h1v1h-1zM18,71h1v1h-1zM19,12h1v1h-1zM19,71h1v1h-1zM20,13h1v1h-1zM20,67h1v1h-1zM21,15h1v1h-1zM21,64h1v1h-1zM22,16h1v1h-1zM22,62h1v1h-1zM23,18h1v1h-1zM23,60h1v1h-1zM24,18h1v1h-1zM24,59h1v1h-1zM25,19h1v1h-1zM25,59h1v1h-1zM26,18h1v1h-1zM26,58h1v1h-1zM27,18h1v1h-1zM27,58h1v1h-1zM28,59h1v1h-1zM29,14h1v1h-1zM29,60h1v1h-1zM30,63h1v1h-1zM31,62h1v1h-1zM32,4h1v1h-1zM33,0h1v1h-1zM33,67h1v1h-1zM34,71h1v1h-1z"/><path fill="#ffefdf" d="M14,3h1v1h-1zM15,3h1v1h-1zM16,7h1v1h-1zM17,7h1v1h-1zM18,11h1v1h-1zM18,70h1v1h-1zM19,69h1v2h-1zM21,16h1v1h-1zM21,63h1v1h-1zM22,17h1v1h-1zM22,61h1v1h-1zM23,19h1v1h-1zM24,19h1v1h-1zM26,19h1v1h-1zM26,57h1v1h-1zM27,19h1v1h-1zM27,57h1v1h-1zM28,17h1v1h-1zM29,15h1v1h-1zM30,11h1v1h-1zM31,9h1v1h-1zM31,61h1v1h-1zM32,63h1v1h-1zM33,1h1v1h-1z"/><path fill="#ffedda" d="M15,4h1v1h-1zM17,71h1v2h-1zM18,69h1v1h-1zM19,13h1v1h-1zM19,68h1v1h-1zM20,14h1v1h-1zM20,66h1v1h-1zM22,60h1v1h-1zM23,59h1v1h-1zM24,58h1v1h-1zM25,20h1v1h-1zM25,58h1v1h-1zM26,56h1v1h-1zM27,56h1v1h-1zM28,18h1v1h-1zM28,58h1v1h-1zM29,16h1v1h-1zM29,59h1v1h-1zM30,12h1v1h-1zM30,62h1v1h-1zM31,10h1v1h-1zM31,60h1v1h-1zM32,5h1v1h-1zM33,2h1v1h-1zM33,66h1v1h-1zM34,70h1v1h-1z"/><path fill="#ffe8d1" d="M15,5h1v1h-1zM15,72h1v1h-1zM16,72h1v1h-1zM17,69h1v1h-1zM18,12h1v1h-1zM18,67h1v1h-1zM19,14h1v1h-1zM19,66h1v1h-1zM20,64h1v1h-1zM21,61h1v1h-1zM22,59h1v1h-1zM23,21h1v1h-1zM24,21h1v1h-1zM24,56h1v1h-1zM25,21h1v1h-1zM25,56h1v1h-1zM26,21h1v1h-1zM26,55h1v1h-1zM27,21h1v1h-1zM27,55h1v1h-1zM28,56h1v1h-1zM29,58h1v1h-1zM30,13h1v1h-1zM30,60h1v1h-1zM31,11h1v1h-1zM32,6h1v1h-1zM33,64h1v1h-1zM34,68h1v1h-1z"/><path fill="#ffe1c3" d="M15,7h1v1h-1zM15,70h1v1h-1zM16,69h1v1h-1zM17,67h1v1h-1zM20,62h1v1h-1zM21,19h1v1h-1zM21,59h1v1h-1zM22,20h1v1h-1zM22,57h1v1h-1zM25,54h1v1h-1zM26,53h1v1h-1zM27,53h1v1h-1zM28,21h1v1h-1zM29,19h1v1h-1zM29,56h1v1h-1zM31,12h1v1h-1zM31,58h1v1h-1zM32,60h1v1h-1zM33,5h1v1h-1zM33,63h1v1h-1zM34,1h1v1h-1zM34,67h1v1h-1z"/><path fill="#fffaf6" d="M16,0h1v3h-1zM17,0h1v2h-1zM17,4h1v1h-1zM18,0h1v2h-1zM18,4h1v3h-1zM19,6h1v3h-1zM20,6h1v3h-1zM21,9h1v2h-1zM22,10h1v3h-1zM22,68h1v3h-1zM23,13h1v2h-1zM23,66h1v2h-1zM24,13h1v2h-1zM24,64h1v3h-1zM25,13h1v2h-1zM25,64h1v3h-1zM26,13h1v2h-1zM26,64h1v3h-1zM27,13h1v2h-1zM27,64h1v3h-1zM28,10h1v3h-1zM28,64h1v3h-1zM29,9h1v1h-1zM29,66h1v2h-1zM30,7h1v1h-1zM30,71h1v2h-1zM31,4h1v2h-1zM31,66h1v3h-1zM32,0h1v1h-1zM32,68h1v3h-1z"/><path fill="#fff8f1" d="M16,3h1v1h-1zM18,7h1v1h-1zM19,9h1v1h-1zM20,9h1v1h-1zM20,72h1v1h-1zM21,11h1v2h-1zM21,69h1v4h-1zM22,13h1v1h-1zM22,66h1v2h-1zM23,15h1v2h-1zM23,64h1v2h-1zM24,15h1v2h-1zM24,63h1v1h-1zM25,15h1v2h-1zM25,63h1v1h-1zM26,15h1v2h-1zM26,62h1v2h-1zM27,15h1v2h-1zM27,62h1v2h-1zM28,13h1v1h-1zM28,63h1v1h-1zM29,10h1v1h-1zM29,64h1v2h-1zM30,8h1v1h-1zM30,68h1v3h-1zM31,6h1v1h-1zM31,64h1v2h-1zM32,1h1v1h-1zM32,67h1v1h-1zM33,72h1v1h-1z"/><path fill="#fffdfa" d="M17,2h1v2h-1zM18,2h1v2h-1zM19,0h1v6h-1zM20,2h1v4h-1zM21,6h1v3h-1zM22,6h1v4h-1zM22,71h1v2h-1zM23,10h1v3h-1zM23,68h1v5h-1zM24,10h1v3h-1zM24,67h1v4h-1zM25,10h1v3h-1zM25,67h1v4h-1zM26,10h1v3h-1zM26,67h1v4h-1zM27,10h1v3h-1zM27,67h1v4h-1zM28,6h1v4h-1zM28,67h1v4h-1zM29,6h1v3h-1zM29,68h1v5h-1zM30,4h1v3h-1zM31,0h1v4h-1zM31,69h1v4h-1zM32,71h1v2h-1z"/><path fill="#ffffff" d="M20,0h1v2h-1zM21,0h1v6h-1zM22,0h1v6h-1zM23,0h1v10h-1zM24,0h1v10h-1zM24,71h1v2h-1zM25,0h1v10h-1zM25,71h1v2h-1zM26,0h1v10h-1zM26,71h1v2h-1zM27,0h1v10h-1zM27,71h1v2h-1zM28,0h1v6h-1zM28,71h1v2h-1zM29,0h1v6h-1zM30,0h1v4h-1z"/></g></g><rect x="176" y="305" width="61" height="54.5" fill="#fff"/><rect x="173" y="671" width="58" height="55" fill="#fff"/><line x1="356.6" y1="296" x2="356.6" y2="612" stroke="#000" stroke-width="3" stroke-dasharray="11.6 11.4"/><line x1="399.5" y1="296" x2="399.5" y2="612" stroke="#000" stroke-width="3" stroke-dasharray="11.6 11.4"/><line x1="356.6" y1="663" x2="356.6" y2="979" stroke="#000" stroke-width="3" stroke-dasharray="11.6 11.4"/><line x1="399.5" y1="663" x2="399.5" y2="979" stroke="#000" stroke-width="3" stroke-dasharray="11.6 11.4"/><line x1="167.5" y1="456.6" x2="687.5" y2="456.6" stroke="#000" stroke-width="3" stroke-dasharray="11.6 11.4"/><line x1="167.5" y1="823.1" x2="687.5" y2="823.1" stroke="#000" stroke-width="3" stroke-dasharray="11.6 11.4"/><polyline points="160.7,261.5 173.6,260.6 186.5,258.8 199.4,253.8 212.2,249.0 225.1,240.8 238.0,224.4 250.9,206.7 263.8,180.2 276.6,153.2 289.5,155.7 302.4,169.2 315.3,181.7 328.2,187.3 341.0,183.8 353.9,171.4 366.8,156.3 379.7,145.4 392.6,146.2 405.4,152.6 418.3,170.6 431.2,184.5 444.1,192.5 457.0,198.0 469.8,203.3 482.7,204.4 495.6,199.8 508.5,195.0 521.4,178.8 534.2,158.0 547.1,131.0 560.0,98.7 572.9,76.4 585.8,72.2 598.6,90.8 611.5,107.1 624.4,142.5 637.3,181.5 650.2,213.6 663.0,245.0 675.9,255.1 688.8,260.0" fill="none" stroke="#ff0000" stroke-width="3" stroke-linejoin="round" stroke-linecap="butt" clip-path="url(#ca)"/><polyline points="165.9,248.5 178.8,242.0 191.7,235.4 204.6,219.0 217.4,207.5 230.3,160.2 243.2,140.4 256.1,119.8 269.0,111.9 281.8,134.3 294.7,159.8 307.6,177.8 320.5,197.6 333.4,203.4 346.2,200.7 359.1,198.1 372.0,188.5 384.9,181.6 397.8,174.7 410.6,166.6 423.5,166.3 436.4,172.6 449.3,175.5 462.2,187.7 475.0,195.0 487.9,198.0 500.8,200.4 513.7,198.0 526.6,184.2 539.4,177.4 552.3,166.6 565.2,158.0 578.1,151.0 591.0,142.4 603.8,142.4 616.7,164.9 629.6,177.3 642.5,197.2 655.4,217.9 668.2,228.4 681.1,241.8 694.0,250.7" fill="none" stroke="#0000cc" stroke-width="3" stroke-linejoin="round" stroke-linecap="butt" clip-path="url(#ca)"/><polyline points="743.2,302.6 745.2,312.4 746.6,320.8 749.4,329.2 755.0,339.8 762.0,346.0 770.4,351.0 778.8,355.8 790.0,360.0 804.0,365.0 818.0,369.0 832.0,372.6 860.0,379.6 888.0,386.6 916.0,393.6 935.6,399.2 952.4,404.8 960.8,409.0 966.4,414.6 972.0,420.2 974.8,427.2 973.4,432.8 966.4,437.0 960.8,444.0 953.8,450.0 949.6,455.6 938.4,465.4 927.2,476.6 917.4,481.4 913.2,485.0 904.8,494.8 899.2,501.8 888.0,506.0 871.2,513.8 860.0,518.6 853.0,524.2 832.0,531.8 815.2,541.0 798.4,548.0 784.4,555.0 773.2,561.4 770.4,566.2 759.2,574.6 750.2,583.9 747.4,592.8 743.8,602.6 742.4,611.0" fill="none" stroke="#ff0000" stroke-width="3" stroke-linejoin="round" stroke-linecap="butt"/><polyline points="741.8,668.4 743.0,680.2 746.6,692.8 759.2,706.8 770.4,712.4 787.2,720.0 812.4,727.2 832.0,732.0 854.4,737.6 876.8,742.4 902.0,748.8 916.0,753.0 938.4,760.0 952.4,765.6 960.8,772.6 963.0,778.2 958.0,783.8 951.0,790.8 944.0,796.4 928.6,800.6 916.0,806.2 899.2,813.2 882.4,822.0 880.2,827.6 881.0,835.2 888.0,843.0 899.2,850.8 907.0,857.6 908.2,865.4 906.2,873.2 896.4,882.2 886.6,890.6 871.2,896.2 843.2,906.8 826.4,917.2 809.6,925.6 788.6,937.4 776.0,946.6 764.8,959.2 755.0,976.9" fill="none" stroke="#0000cc" stroke-width="3" stroke-linejoin="round" stroke-linecap="butt"/><rect x="166.5" y="20.5" width="523" height="251.5" fill="none" style="stroke:#000;stroke-width:3"/><rect x="166.5" y="297.5" width="523" height="318" fill="none" style="stroke:#000;stroke-width:3"/><rect x="166.5" y="664" width="523" height="318" fill="none" style="stroke:#000;stroke-width:3"/><rect x="733" y="297.5" width="251.6" height="318" fill="none" style="stroke:#000;stroke-width:3"/><rect x="733" y="664" width="251.6" height="318" fill="none" style="stroke:#000;stroke-width:3"/><line x1="147" y1="24.5" x2="165" y2="24.5" style="stroke:#000;stroke-width:3"/><line x1="147" y1="146" x2="165" y2="146" style="stroke:#000;stroke-width:3"/><line x1="147" y1="267.5" x2="165" y2="267.5" style="stroke:#000;stroke-width:3"/><line x1="170.5" y1="273.5" x2="170.5" y2="291.5" style="stroke:#000;stroke-width:3"/><line x1="256.33299999999997" y1="273.5" x2="256.33299999999997" y2="291.5" style="stroke:#000;stroke-width:3"/><line x1="342.166" y1="273.5" x2="342.166" y2="291.5" style="stroke:#000;stroke-width:3"/><line x1="427.999" y1="273.5" x2="427.999" y2="291.5" style="stroke:#000;stroke-width:3"/><line x1="513.832" y1="273.5" x2="513.832" y2="291.5" style="stroke:#000;stroke-width:3"/><line x1="599.665" y1="273.5" x2="599.665" y2="291.5" style="stroke:#000;stroke-width:3"/><line x1="685.498" y1="273.5" x2="685.498" y2="291.5" style="stroke:#000;stroke-width:3"/><line x1="170.5" y1="617" x2="170.5" y2="635" style="stroke:#000;stroke-width:3"/><line x1="256.33299999999997" y1="617" x2="256.33299999999997" y2="635" style="stroke:#000;stroke-width:3"/><line x1="342.166" y1="617" x2="342.166" y2="635" style="stroke:#000;stroke-width:3"/><line x1="427.999" y1="617" x2="427.999" y2="635" style="stroke:#000;stroke-width:3"/><line x1="513.832" y1="617" x2="513.832" y2="635" style="stroke:#000;stroke-width:3"/><line x1="599.665" y1="617" x2="599.665" y2="635" style="stroke:#000;stroke-width:3"/><line x1="685.498" y1="617" x2="685.498" y2="635" style="stroke:#000;stroke-width:3"/><line x1="170.5" y1="983.5" x2="170.5" y2="1001" style="stroke:#000;stroke-width:3"/><line x1="256.33299999999997" y1="983.5" x2="256.33299999999997" y2="1001" style="stroke:#000;stroke-width:3"/><line x1="342.166" y1="983.5" x2="342.166" y2="1001" style="stroke:#000;stroke-width:3"/><line x1="427.999" y1="983.5" x2="427.999" y2="1001" style="stroke:#000;stroke-width:3"/><line x1="513.832" y1="983.5" x2="513.832" y2="1001" style="stroke:#000;stroke-width:3"/><line x1="599.665" y1="983.5" x2="599.665" y2="1001" style="stroke:#000;stroke-width:3"/><line x1="685.498" y1="983.5" x2="685.498" y2="1001" style="stroke:#000;stroke-width:3"/><line x1="147" y1="370.8" x2="165" y2="370.8" style="stroke:#000;stroke-width:3"/><line x1="713" y1="370.8" x2="731.5" y2="370.8" style="stroke:#000;stroke-width:3"/><line x1="147" y1="456.6" x2="165" y2="456.6" style="stroke:#000;stroke-width:3"/><line x1="713" y1="456.6" x2="731.5" y2="456.6" style="stroke:#000;stroke-width:3"/><line x1="147" y1="542.4" x2="165" y2="542.4" style="stroke:#000;stroke-width:3"/><line x1="713" y1="542.4" x2="731.5" y2="542.4" style="stroke:#000;stroke-width:3"/><line x1="147" y1="737.3" x2="165" y2="737.3" style="stroke:#000;stroke-width:3"/><line x1="713" y1="737.3" x2="731.5" y2="737.3" style="stroke:#000;stroke-width:3"/><line x1="147" y1="823.1" x2="165" y2="823.1" style="stroke:#000;stroke-width:3"/><line x1="713" y1="823.1" x2="731.5" y2="823.1" style="stroke:#000;stroke-width:3"/><line x1="147" y1="908.9" x2="165" y2="908.9" style="stroke:#000;stroke-width:3"/><line x1="713" y1="908.9" x2="731.5" y2="908.9" style="stroke:#000;stroke-width:3"/><line x1="737.5" y1="617" x2="737.5" y2="635" style="stroke:#000;stroke-width:3"/><line x1="825.5" y1="617" x2="825.5" y2="635" style="stroke:#000;stroke-width:3"/><line x1="913.5" y1="617" x2="913.5" y2="635" style="stroke:#000;stroke-width:3"/><line x1="737.5" y1="983.5" x2="737.5" y2="1001" style="stroke:#000;stroke-width:3"/><line x1="825.5" y1="983.5" x2="825.5" y2="1001" style="stroke:#000;stroke-width:3"/><line x1="913.5" y1="983.5" x2="913.5" y2="1001" style="stroke:#000;stroke-width:3"/><g font-family="Liberation Sans, sans-serif" fill="#000"><text x="144.57 171.25 179.58" y="1037.70" font-size="30">-.0</text><path transform="translate(158.07,1037.70) scale(30)" d="M0.133,0H0.236V-0.688H0.165L0,-0.612V-0.535L0.133,-0.595Z"/><text x="230.53 240.52 257.20 265.54" y="1037.70" font-size="30">-0.9</text><text x="316.30 326.29 342.98 351.31" y="1037.70" font-size="30">-0.8</text><text x="402.24 412.23 428.91 437.25" y="1037.70" font-size="30">-0.7</text><text x="487.98 497.97 514.65 522.99" y="1037.70" font-size="30">-0.6</text><text x="573.78 583.77 600.46 608.79" y="1037.70" font-size="30">-0.5</text><text x="659.42 669.41 686.10 694.43" y="1037.70" font-size="30">-0.4</text><text x="729.16" y="1037.70" font-size="30">0</text><text x="817.16" y="1037.70" font-size="30">2</text><text x="905.55" y="1037.70" font-size="30">4</text><text x="121.29" y="34.00" font-size="30">0</text><path transform="translate(108.11,34.00) scale(30)" d="M0.133,0H0.236V-0.688H0.165L0,-0.612V-0.535L0.133,-0.595Z"/><text x="121.38" y="155.50" font-size="30">5</text><text x="121.29" y="277.00" font-size="30">0</text><text x="96.40 113.09 121.42" y="380.30" font-size="30">0.2</text><text x="96.07 112.75 121.09" y="466.10" font-size="30">0.0</text><text x="86.41 96.40 113.09 121.42" y="551.90" font-size="30">-0.2</text><text x="96.40 113.09 121.42" y="746.80" font-size="30">0.2</text><text x="96.07 112.75 121.09" y="832.60" font-size="30">0.0</text><text x="86.41 96.40 113.09 121.42" y="918.40" font-size="30">-0.2</text><text x="174.04 188.83 215.51" y="65.00" font-size="44">(a)</text><text x="177.19 193.77 221.16" y="345.50" font-size="44">(b)</text><text x="174.44 191.15 215.91" y="712.00" font-size="44">(c)</text><text x="921.04 938.46 964.91" y="342.50" font-size="44">(d)</text><text x="918.84 935.21 962.11" y="712.00" font-size="44">(e)</text><text x="355.17" y="1103.70" font-size="43.5">k</text><rect x="379.1" y="1092.4" width="2.4" height="25"/><rect x="386" y="1092.4" width="2.2" height="25"/><text x="407.50 426.32 486.05" y="1103.60" font-size="43.5">(Å)</text><text x="453.54" y="1074.80" font-size="30.5">-</text><path transform="translate(468.50,1074.80) scale(30.5)" d="M0.133,0H0.236V-0.688H0.165L0,-0.612V-0.535L0.133,-0.595Z"/><text x="712.69 723.44 748.13 764.51 789.84 812.36 832.22 842.33 859.09 895.64 940.66 987.74" y="1099.20" font-size="44.5">Intensity(0)</text><path transform="translate(919.00,1099.20) scale(44.5)" d="M0.133,0H0.236V-0.688H0.165L0,-0.612V-0.535L0.133,-0.595Z"/><text x="967.61" y="1069.50" font-size="30">4</text><g transform="translate(76.8,287.2) rotate(-90)"><text x="-0.01 10.74 35.43 51.81 77.14 99.66 119.52 129.63 146.39 182.94 227.96 275.04" y="0.00" font-size="44.5">Intensity(0)</text><path transform="translate(206.30,0.00) scale(44.5)" d="M0.133,0H0.236V-0.688H0.165L0,-0.612V-0.535L0.133,-0.595Z"/><text x="254.91" y="-29.70" font-size="30">4</text></g><g transform="translate(51,527.6) rotate(-90)"><text x="-0.03 48.00 66.32 125.85" y="0.00" font-size="43.5">k(Å)</text><text x="94.54" y="-30.00" font-size="30.5">-</text><path transform="translate(109.40,-30.00) scale(30.5)" d="M0.133,0H0.236V-0.688H0.165L0,-0.612V-0.535L0.133,-0.595Z"/><rect x="22.2" y="8.3" width="16.4" height="1.9"/><rect x="29.7" y="-6.8" width="1.6" height="16"/></g><g transform="translate(51,894.1) rotate(-90)"><text x="-0.03 48.00 66.32 125.85" y="0.00" font-size="43.5">k(Å)</text><text x="94.54" y="-30.00" font-size="30.5">-</text><path transform="translate(109.40,-30.00) scale(30.5)" d="M0.133,0H0.236V-0.688H0.165L0,-0.612V-0.535L0.133,-0.595Z"/><rect x="22.2" y="8.3" width="16.4" height="1.9"/><rect x="29.7" y="-6.8" width="1.6" height="16"/></g></g></svg></body></html>
